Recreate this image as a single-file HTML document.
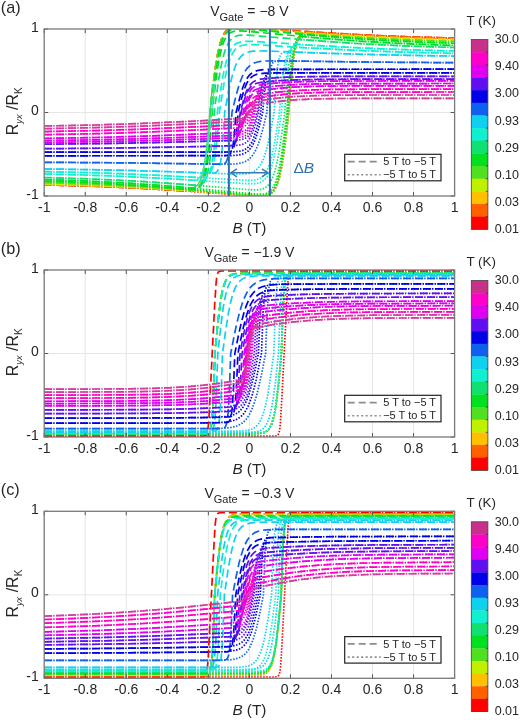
<!DOCTYPE html><html><head><meta charset="utf-8"><style>html,body{margin:0;padding:0;background:#fff;}svg{display:block;} text{font-family:"Liberation Sans",Arial,sans-serif;fill:#262626;}</style></head><body>
<svg width="520" height="720" viewBox="0 0 520 720">
<rect width="520" height="720" fill="#fff"/>
<clipPath id="clip0"><rect x="44.2" y="29.0" width="410.40000000000003" height="167.0"/></clipPath>
<g stroke="#e6e6e6" stroke-width="1"><line x1="85.24" y1="29.0" x2="85.24" y2="196.0"/><line x1="126.28" y1="29.0" x2="126.28" y2="196.0"/><line x1="167.32" y1="29.0" x2="167.32" y2="196.0"/><line x1="208.36" y1="29.0" x2="208.36" y2="196.0"/><line x1="249.40" y1="29.0" x2="249.40" y2="196.0"/><line x1="290.44" y1="29.0" x2="290.44" y2="196.0"/><line x1="331.48" y1="29.0" x2="331.48" y2="196.0"/><line x1="372.52" y1="29.0" x2="372.52" y2="196.0"/><line x1="413.56" y1="29.0" x2="413.56" y2="196.0"/><line x1="44.2" y1="112.50" x2="454.6" y2="112.50"/></g>
<g clip-path="url(#clip0)" fill="none" stroke-width="1.7"><path d="M44.2,184.8 81.4,185.8 116.0,187.1 146.9,188.6 188.3,191.0 191.7,191.0 194.2,190.7 196.3,190.0 197.9,188.9 199.0,187.8 200.0,186.3 201.9,182.1 203.5,175.9 205.0,167.7 206.1,159.1 207.2,148.3 210.4,108.5 211.6,97.4 215.0,70.0 216.6,59.9 218.0,52.2 219.2,46.7 220.6,41.9 221.9,38.1 223.3,35.0 224.9,32.5 226.6,30.4 228.6,28.9 230.7,27.9 233.0,27.3 235.5,27.0 242.9,27.0 310.9,31.9 354.8,34.6 402.6,36.7 454.6,38.2" stroke="#ff0000" stroke-dasharray="8 4"/><path d="M44.2,184.8 96.2,186.3 144.0,188.4 187.9,191.1 255.9,196.0 263.3,196.0 265.8,195.7 268.1,195.1 270.2,194.0 272.2,192.5 273.9,190.5 275.5,188.0 276.9,184.9 278.2,181.1 279.6,176.3 280.8,170.8 282.2,163.1 283.8,153.0 287.2,125.5 288.4,114.5 291.6,74.7 292.7,63.9 293.8,55.3 295.3,47.1 296.9,40.9 298.8,36.7 299.8,35.2 300.9,34.1 302.5,33.0 304.6,32.3 307.1,32.0 310.5,32.0 351.9,34.4 382.8,35.9 417.4,37.2 454.6,38.2" stroke="#ff0000" stroke-dasharray="1.5 1.5"/><path d="M44.2,184.8 81.4,185.8 116.0,187.1 146.9,188.6 188.3,191.0 191.7,191.0 194.2,190.7 196.3,190.0 197.9,188.9 199.0,187.8 200.0,186.3 201.9,182.1 203.5,175.9 205.0,167.7 206.1,159.1 207.2,148.3 210.4,108.5 211.6,97.4 215.0,70.0 216.6,59.9 218.0,52.2 219.2,46.7 220.6,41.9 221.9,38.1 223.3,35.0 224.9,32.5 226.6,30.4 228.6,28.9 230.7,27.9 233.0,27.3 235.5,27.0 242.9,27.0 310.9,31.9 354.8,34.6 402.6,36.7 454.6,38.2" stroke="#ff6000" stroke-dasharray="8 4"/><path d="M44.2,184.8 96.2,186.3 144.0,188.4 187.9,191.1 255.9,196.0 263.3,196.0 265.8,195.7 268.1,195.1 270.2,194.0 272.2,192.5 273.9,190.5 275.5,188.0 276.9,184.9 278.2,181.1 279.6,176.3 280.8,170.8 282.2,163.1 283.8,153.0 287.2,125.5 288.4,114.5 291.6,74.7 292.7,63.9 293.8,55.3 295.3,47.1 296.9,40.9 298.8,36.7 299.8,35.2 300.9,34.1 302.5,33.0 304.6,32.3 307.1,32.0 310.5,32.0 351.9,34.4 382.8,35.9 417.4,37.2 454.6,38.2" stroke="#ff6000" stroke-dasharray="1.5 1.5"/><path d="M44.2,184.3 81.4,185.3 116.0,186.6 147.0,188.1 188.3,190.5 191.7,190.5 194.2,190.2 196.3,189.5 197.9,188.5 199.0,187.3 200.0,185.9 201.9,181.7 203.5,175.5 205.0,167.5 206.1,158.9 207.2,148.2 210.4,108.8 211.6,97.9 215.0,70.7 216.6,60.7 218.0,53.1 219.2,47.6 220.6,42.9 221.9,39.1 223.3,36.0 224.9,33.6 226.6,31.6 228.6,30.1 230.7,29.1 233.0,28.5 235.5,28.1 242.8,28.1 310.9,33.1 354.8,35.7 402.6,37.9 454.6,39.4" stroke="#ffc000" stroke-dasharray="8 4"/><path d="M44.2,184.3 96.2,185.8 144.0,187.9 187.9,190.6 256.0,195.5 263.3,195.5 265.8,195.2 268.1,194.6 270.2,193.6 272.2,192.1 273.9,190.1 275.5,187.6 276.9,184.5 278.2,180.8 279.6,176.0 280.8,170.6 282.2,162.9 283.8,153.0 287.2,125.8 288.4,114.8 291.6,75.5 292.7,64.8 293.8,56.2 295.3,48.1 296.9,42.0 298.8,37.8 299.8,36.3 300.9,35.2 302.5,34.2 304.6,33.5 307.1,33.2 310.5,33.2 351.8,35.6 382.8,37.1 417.4,38.4 454.6,39.4" stroke="#ffc000" stroke-dasharray="1.5 1.5"/><path d="M44.2,183.5 81.4,184.5 116.1,185.9 147.2,187.5 188.5,190.1 191.8,190.1 194.3,189.8 196.3,189.2 197.9,188.2 199.0,187.1 200.0,185.6 201.9,181.5 203.5,175.3 205.0,167.3 206.1,158.7 207.2,148.1 210.4,108.9 211.6,98.0 215.0,70.8 216.6,60.9 218.0,53.3 219.2,47.9 220.6,43.2 221.9,39.4 223.3,36.4 224.9,33.9 226.6,31.9 228.6,30.5 230.7,29.5 232.9,28.9 235.4,28.6 242.6,28.6 310.5,33.9 354.6,36.8 402.5,39.1 454.6,40.7" stroke="#c0f000" stroke-dasharray="8 4"/><path d="M44.2,183.5 96.3,185.1 144.2,187.4 188.3,190.3 256.2,195.6 263.4,195.6 265.9,195.3 268.1,194.7 270.2,193.7 272.2,192.2 273.9,190.3 275.5,187.8 276.9,184.7 278.2,181.0 279.6,176.3 280.8,170.9 282.2,163.2 283.8,153.3 287.2,126.2 288.4,115.3 291.6,76.1 292.7,65.4 293.8,56.9 295.3,48.8 296.9,42.7 298.8,38.6 299.8,37.1 300.9,36.0 302.5,35.0 304.5,34.3 307.0,34.0 310.3,34.0 351.6,36.6 382.7,38.2 417.4,39.6 454.6,40.7" stroke="#c0f000" stroke-dasharray="1.5 1.5"/><path d="M44.2,182.6 81.5,183.8 116.2,185.3 147.4,187.0 188.6,189.8 191.8,189.8 194.3,189.5 196.3,188.9 197.9,187.9 199.0,186.8 200.0,185.3 201.9,181.2 203.5,175.1 205.0,167.0 206.1,158.5 207.2,147.8 210.4,108.6 211.6,97.7 215.0,70.6 216.6,60.7 218.0,53.1 219.2,47.7 220.6,43.0 221.9,39.3 223.3,36.2 224.9,33.7 226.6,31.8 228.6,30.3 230.7,29.3 232.9,28.8 235.4,28.5 242.4,28.5 310.3,34.2 354.5,37.3 402.5,39.8 454.6,41.5" stroke="#50e020" stroke-dasharray="8 4"/><path d="M44.2,182.6 96.3,184.4 144.3,186.8 188.5,189.9 256.4,195.6 263.4,195.7 265.9,195.4 268.1,194.8 270.2,193.8 272.2,192.4 273.9,190.4 275.5,188.0 276.9,184.9 278.2,181.2 279.6,176.4 280.8,171.1 282.2,163.4 283.8,153.5 287.2,126.4 288.4,115.5 291.6,76.3 292.7,65.7 293.8,57.2 295.3,49.1 296.9,43.0 298.8,38.9 299.8,37.4 300.9,36.3 302.5,35.3 304.5,34.7 307.0,34.4 310.2,34.4 351.4,37.2 382.6,38.9 417.3,40.4 454.6,41.5" stroke="#50e020" stroke-dasharray="1.5 1.5"/><path d="M44.2,181.1 82.0,182.4 117.0,184.1 148.7,186.1 189.8,189.3 193.1,189.3 195.4,189.0 197.4,188.4 198.9,187.5 200.0,186.4 201.1,184.9 202.9,180.8 204.6,174.7 206.0,166.7 207.1,158.2 208.3,147.5 211.4,108.4 212.6,98.4 216.0,71.1 217.5,61.1 218.9,53.4 220.2,48.0 221.5,43.2 222.8,39.4 224.3,36.3 225.8,33.8 227.5,31.8 229.5,30.3 231.7,29.3 233.9,28.8 236.7,28.5 244.5,28.7 316.6,35.6 343.1,37.7 368.9,39.5 410.1,41.7 454.6,43.3" stroke="#00e020" stroke-dasharray="8 4"/><path d="M44.2,181.1 88.7,182.7 129.9,184.8 155.7,186.6 182.2,188.8 254.3,195.6 262.1,195.8 264.9,195.6 267.1,195.0 269.3,194.0 271.3,192.5 273.0,190.6 274.5,188.1 276.0,184.9 277.3,181.2 278.6,176.4 279.9,170.9 281.3,163.2 282.8,153.2 286.2,126.0 287.4,116.0 290.5,76.8 291.7,66.2 292.8,57.7 294.2,49.6 295.9,43.5 297.7,39.4 298.8,38.0 299.9,36.9 301.4,35.9 303.4,35.3 305.7,35.0 309.0,35.1 350.1,38.2 381.8,40.3 416.8,42.0 454.6,43.3" stroke="#00e020" stroke-dasharray="1.5 1.5"/><path d="M44.2,179.5 82.3,180.8 117.6,182.5 149.5,184.6 190.9,187.8 194.1,187.8 196.5,187.6 198.4,187.0 199.9,186.0 201.1,185.0 202.1,183.6 203.9,179.5 205.6,173.6 207.0,165.7 208.2,157.4 209.3,147.1 212.5,108.8 213.6,99.0 217.0,72.4 218.5,62.7 220.0,55.1 221.2,49.8 222.5,45.1 223.9,41.5 225.3,38.4 226.8,36.0 228.6,34.0 230.5,32.6 232.7,31.7 234.9,31.1 237.7,30.8 245.4,31.1 316.8,37.8 343.1,40.0 368.8,41.7 410.0,43.9 454.6,45.5" stroke="#00e020" stroke-dasharray="8 4"/><path d="M44.2,179.5 88.8,181.1 130.0,183.3 155.7,185.0 182.0,187.2 253.4,193.9 261.1,194.2 263.9,193.9 266.1,193.3 268.3,192.4 270.2,191.0 272.0,189.0 273.5,186.6 274.9,183.5 276.3,179.9 277.6,175.2 278.8,169.9 280.3,162.3 281.8,152.6 285.2,126.0 286.3,116.2 289.5,77.9 290.6,67.6 291.8,59.3 293.2,51.4 294.9,45.5 296.7,41.4 297.7,40.0 298.9,39.0 300.4,38.0 302.3,37.4 304.7,37.2 307.9,37.2 349.3,40.4 381.2,42.5 416.5,44.2 454.6,45.5" stroke="#00e020" stroke-dasharray="1.5 1.5"/><path d="M44.2,177.5 83.1,178.7 119.2,180.2 152.0,182.1 194.0,185.1 197.1,185.1 199.3,184.8 201.1,184.3 202.6,183.5 203.7,182.4 204.7,181.2 206.4,177.5 207.8,172.5 209.2,165.5 210.4,156.6 211.6,145.0 214.5,109.4 218.8,79.0 220.6,68.9 222.3,60.4 223.8,54.7 225.2,50.1 226.7,46.1 228.3,43.1 230.0,40.5 231.9,38.5 234.0,37.0 236.5,36.0 238.8,35.4 241.5,35.1 248.9,35.2 314.2,40.6 356.9,43.5 403.7,45.9 454.6,47.5" stroke="#10e070" stroke-dasharray="8 4"/><path d="M44.2,177.5 95.1,179.1 141.9,181.5 184.6,184.4 249.9,189.8 257.3,189.9 260.0,189.6 262.3,189.0 264.8,188.0 266.9,186.5 268.8,184.5 270.5,181.9 272.1,178.9 273.6,174.9 275.1,170.3 276.5,164.6 278.2,156.1 280.0,146.0 284.3,115.6 287.2,80.0 288.4,68.4 289.6,59.5 291.0,52.5 292.4,47.5 294.1,43.8 295.1,42.6 296.2,41.5 297.7,40.7 299.5,40.2 301.7,39.9 304.8,39.9 346.8,42.9 379.6,44.8 415.7,46.3 454.6,47.5" stroke="#10e070" stroke-dasharray="1.5 1.5"/><path d="M44.2,174.0 83.8,175.0 120.4,176.3 153.9,177.9 196.8,180.3 199.9,180.3 202.2,180.1 204.1,179.6 205.6,178.8 206.7,177.9 207.6,176.8 209.4,173.5 210.9,168.6 212.3,162.1 213.5,153.8 214.7,143.1 217.6,110.2 221.9,82.1 223.6,72.7 225.4,64.9 226.8,59.6 228.3,55.3 229.8,51.7 231.3,48.8 233.1,46.4 235.0,44.5 237.2,43.1 239.7,42.2 242.0,41.6 244.8,41.3 252.5,41.3 316.3,45.5 358.4,47.8 404.5,49.7 454.6,51.0" stroke="#10f0d0" stroke-dasharray="8 4"/><path d="M44.2,174.0 94.3,175.3 140.4,177.2 182.5,179.5 246.3,183.7 254.0,183.7 256.8,183.4 259.1,182.8 261.6,181.9 263.8,180.5 265.7,178.6 267.5,176.2 269.0,173.3 270.5,169.7 272.0,165.4 273.4,160.1 275.2,152.3 276.9,142.9 281.2,114.8 284.1,81.9 285.3,71.2 286.5,62.9 287.9,56.4 289.4,51.5 291.2,48.2 292.1,47.1 293.2,46.2 294.7,45.4 296.6,44.9 298.9,44.7 302.0,44.7 344.9,47.1 378.4,48.7 415.0,50.0 454.6,51.0" stroke="#10f0d0" stroke-dasharray="1.5 1.5"/><path d="M44.2,171.6 84.2,172.5 121.4,173.7 155.2,175.2 198.7,177.5 201.9,177.5 204.3,177.3 206.1,176.8 207.6,176.0 208.8,175.1 209.7,174.1 211.4,170.9 213.0,166.2 214.3,160.1 215.5,152.2 216.8,141.9 219.6,110.6 224.0,83.7 225.7,74.8 227.4,67.3 228.9,62.2 230.3,58.1 231.9,54.6 233.4,51.9 235.1,49.6 237.1,47.8 239.2,46.5 241.7,45.5 244.1,45.0 246.9,44.7 254.6,44.7 317.5,48.4 359.2,50.5 404.9,52.2 454.6,53.4" stroke="#10f0d0" stroke-dasharray="8 4"/><path d="M44.2,171.6 93.9,172.8 139.6,174.5 181.3,176.6 244.2,180.3 251.9,180.3 254.7,180.0 257.1,179.5 259.6,178.5 261.7,177.2 263.7,175.4 265.4,173.1 266.9,170.4 268.5,166.9 269.9,162.8 271.4,157.7 273.1,150.2 274.8,141.3 279.2,114.4 282.0,83.1 283.3,72.8 284.5,64.9 285.8,58.8 287.4,54.1 289.1,50.9 290.0,49.9 291.2,49.0 292.7,48.2 294.5,47.7 296.9,47.5 300.1,47.5 343.6,49.8 377.4,51.3 414.6,52.5 454.6,53.4" stroke="#10f0d0" stroke-dasharray="1.5 1.5"/><path d="M44.2,168.9 87.3,169.6 127.2,170.4 164.7,171.5 209.8,173.1 213.8,173.0 215.1,172.7 216.2,172.3 217.6,171.0 218.8,168.7 219.9,165.5 220.7,161.4 221.7,153.8 222.6,144.1 224.8,111.5 228.9,89.9 232.1,76.4 233.7,70.8 235.4,66.0 237.2,62.1 239.0,59.0 241.1,56.4 243.2,54.5 245.7,53.0 248.6,52.0 251.3,51.4 254.6,51.1 263.8,50.9 324.6,53.2 363.4,54.3 407.1,55.3 454.6,56.1" stroke="#10d0f0" stroke-dasharray="8 4"/><path d="M44.2,168.9 91.7,169.7 135.4,170.7 174.2,171.8 235.0,174.1 244.2,173.9 247.5,173.6 250.2,173.0 253.1,172.0 255.6,170.5 257.7,168.6 259.8,166.0 261.6,162.9 263.4,159.0 265.1,154.2 266.7,148.6 269.9,135.1 274.0,113.5 276.2,80.9 277.1,71.2 278.1,63.6 278.9,59.5 280.0,56.3 281.2,54.0 282.6,52.7 283.7,52.3 285.0,52.0 289.0,51.9 334.1,53.5 371.6,54.6 411.5,55.4 454.6,56.1" stroke="#10d0f0" stroke-dasharray="1.5 1.5"/><path d="M44.2,162.3 131.0,162.9 218.4,164.2 222.2,164.1 224.4,163.6 225.7,162.6 226.7,161.0 227.6,158.4 228.4,155.2 229.3,148.7 230.1,140.2 232.0,112.2 236.0,95.8 239.1,84.9 241.0,79.7 242.9,75.2 244.9,71.6 246.9,68.6 249.1,66.3 251.6,64.4 254.3,63.0 257.5,62.0 260.7,61.4 264.6,61.0 275.8,60.8 370.5,62.1 454.6,62.7" stroke="#1060f0" stroke-dasharray="8 4"/><path d="M44.2,162.3 128.3,162.9 223.0,164.2 234.2,164.0 238.1,163.6 241.3,163.0 244.5,162.0 247.2,160.6 249.7,158.7 251.9,156.4 253.9,153.4 255.9,149.8 257.8,145.3 259.7,140.1 262.8,129.2 266.8,112.8 268.7,84.8 269.5,76.3 270.4,69.8 271.2,66.6 272.1,64.0 273.1,62.4 274.4,61.4 276.6,60.9 280.4,60.8 367.8,62.1 454.6,62.7" stroke="#1060f0" stroke-dasharray="1.5 1.5"/><path d="M44.2,155.8 221.1,155.7 226.0,155.6 228.5,155.1 229.8,154.3 230.9,152.8 231.9,150.5 232.6,147.6 233.4,142.8 234.2,135.7 236.1,112.5 239.8,97.6 242.7,87.8 244.3,83.8 245.9,80.3 247.6,77.6 249.3,75.3 251.1,73.6 253.3,72.2 255.7,71.1 258.4,70.3 261.5,69.8 265.2,69.5 277.2,69.3 454.6,69.2" stroke="#0000e8" stroke-dasharray="8 4"/><path d="M44.2,155.8 221.6,155.7 233.6,155.5 237.3,155.2 240.4,154.7 243.1,153.9 245.5,152.8 247.7,151.4 249.5,149.7 251.2,147.4 252.9,144.7 254.5,141.2 256.1,137.2 259.0,127.4 262.7,112.5 264.6,89.3 265.4,82.2 266.2,77.4 266.9,74.5 267.9,72.2 269.0,70.7 270.3,69.9 272.8,69.4 277.7,69.3 454.6,69.2" stroke="#0000e8" stroke-dasharray="1.5 1.5"/><path d="M44.2,152.1 223.1,152.1 228.1,152.0 230.5,151.5 231.9,150.7 233.0,149.4 233.9,147.2 234.6,144.6 235.4,140.2 236.3,133.8 238.1,112.5 241.6,98.2 244.5,88.9 245.8,85.5 247.2,82.5 248.7,80.2 250.3,78.2 252.1,76.6 254.0,75.4 256.2,74.5 258.7,73.8 265.0,73.2 276.1,72.9 454.6,72.9" stroke="#0000e8" stroke-dasharray="8 4"/><path d="M44.2,152.1 222.7,152.1 233.8,151.8 240.1,151.2 242.6,150.5 244.8,149.6 246.7,148.4 248.5,146.8 250.1,144.8 251.6,142.5 253.0,139.5 254.3,136.1 257.2,126.8 260.7,112.5 262.5,91.2 263.4,84.8 264.2,80.4 264.9,77.8 265.8,75.6 266.9,74.3 268.3,73.5 270.7,73.0 275.7,72.9 454.6,72.9" stroke="#0000e8" stroke-dasharray="1.5 1.5"/><path d="M44.2,148.7 104.5,148.2 160.1,147.4 226.0,145.9 230.3,145.7 232.6,145.3 233.9,144.7 235.0,143.5 236.0,141.7 236.8,139.1 237.6,135.2 238.4,129.6 240.2,112.7 243.7,99.4 245.1,94.9 246.5,91.2 247.8,88.6 249.1,86.3 250.6,84.3 252.3,82.6 254.0,81.4 256.0,80.4 258.2,79.7 260.9,79.1 267.9,78.3 279.6,77.5 294.0,76.9 311.0,76.6 351.6,76.3 454.6,76.3" stroke="#6010f0" stroke-dasharray="8 4"/><path d="M44.2,148.7 124.9,147.9 202.2,146.5 232.9,145.7 238.4,145.2 242.3,144.4 244.1,143.7 245.6,142.9 247.0,141.8 248.4,140.4 250.6,137.1 252.8,132.4 255.4,124.5 258.6,111.8 260.5,94.0 261.3,88.5 262.2,84.4 263.1,81.8 264.3,80.1 265.7,79.0 267.8,78.4 273.5,77.8 287.5,77.2 316.8,76.5 356.4,76.3 454.6,76.3" stroke="#6010f0" stroke-dasharray="1.5 1.5"/><path d="M44.2,144.2 101.0,143.6 153.5,142.6 226.1,140.7 231.1,140.5 233.6,140.1 235.0,139.5 236.2,138.4 237.1,136.7 237.9,134.4 238.7,130.8 239.4,126.5 241.2,111.9 244.5,99.7 245.9,95.4 247.2,92.2 248.5,89.9 249.8,88.0 251.0,86.5 252.5,85.3 254.1,84.3 256.0,83.5 260.9,82.4 269.5,81.4 282.8,80.5 296.8,79.9 312.9,79.5 353.2,79.2 454.6,79.1" stroke="#6010f0" stroke-dasharray="8 4"/><path d="M44.2,144.2 112.1,143.4 175.3,142.1 231.8,140.5 238.6,140.1 242.8,139.3 245.8,138.1 248.2,136.3 250.1,133.7 252.0,130.0 254.5,122.6 257.6,110.8 259.5,95.4 260.3,90.7 261.1,87.4 262.1,84.9 263.4,83.2 264.9,82.3 267.1,81.7 275.3,80.9 288.6,80.2 317.3,79.4 356.8,79.1 454.6,79.1" stroke="#6010f0" stroke-dasharray="1.5 1.5"/><path d="M44.2,142.4 99.5,141.7 150.4,140.6 226.4,138.2 232.9,137.9 235.7,137.5 237.2,136.8 238.3,135.8 239.2,134.2 240.1,131.9 241.6,124.5 243.2,111.9 246.3,99.9 247.6,96.2 248.9,93.1 251.1,89.4 252.4,88.1 253.7,87.1 255.2,86.3 257.0,85.6 261.9,84.6 272.1,83.4 285.2,82.4 298.8,81.8 314.4,81.3 354.5,81.0 454.6,80.9" stroke="#e000f0" stroke-dasharray="8 4"/><path d="M44.2,142.4 106.0,141.5 163.0,140.2 231.2,138.0 238.3,137.6 242.4,136.9 244.9,136.0 246.9,134.5 248.7,132.4 250.2,129.6 251.5,126.4 252.7,122.5 255.6,110.9 257.4,96.9 258.2,92.6 259.0,89.6 260.1,87.3 261.4,85.6 263.1,84.7 265.7,84.1 275.8,83.1 288.4,82.2 301.5,81.7 316.9,81.3 356.5,81.0 454.6,80.9" stroke="#e000f0" stroke-dasharray="1.5 1.5"/><path d="M44.2,140.6 97.9,139.8 147.3,138.6 213.5,136.3 232.4,135.5 236.6,135.0 238.1,134.5 239.2,133.6 240.2,132.2 241.0,130.3 241.8,127.5 242.5,124.0 244.3,112.3 247.6,101.1 248.9,97.7 250.5,94.5 252.8,91.6 254.1,90.5 255.7,89.6 259.5,88.3 265.3,87.3 276.3,86.0 288.5,85.0 301.6,84.4 316.9,83.9 356.5,83.6 454.6,83.5" stroke="#e000f0" stroke-dasharray="8 4"/><path d="M44.2,140.6 103.1,139.7 157.4,138.3 229.1,135.6 237.1,135.2 241.4,134.5 244.4,133.4 246.6,131.7 248.6,129.1 250.3,125.4 252.2,120.0 254.5,111.4 256.6,97.8 257.5,94.0 258.6,91.0 259.8,89.4 261.1,88.4 262.9,87.7 265.9,87.2 277.0,85.9 289.1,85.0 302.1,84.4 317.4,83.9 356.9,83.6 454.6,83.5" stroke="#e000f0" stroke-dasharray="1.5 1.5"/><path d="M44.2,138.4 97.0,137.5 145.8,136.1 205.1,133.8 232.7,132.5 237.6,132.0 239.1,131.5 240.3,130.7 241.3,129.4 242.1,127.6 243.7,121.9 245.3,112.3 247.1,105.4 249.2,99.5 250.3,97.2 251.6,95.3 252.7,94.0 253.9,93.0 257.0,91.6 261.7,90.6 270.2,89.3 281.2,88.1 292.7,87.2 305.3,86.6 320.3,86.2 359.3,85.8 454.6,85.8" stroke="#e000f0" stroke-dasharray="8 4"/><path d="M44.2,138.4 99.9,137.4 151.2,135.9 186.3,134.6 226.3,132.8 237.3,132.2 242.0,131.6 244.6,130.8 246.5,129.4 248.2,127.4 249.6,124.6 251.3,119.6 253.5,111.4 254.8,103.2 255.9,98.4 256.8,95.4 257.8,93.4 259.2,91.8 261.1,90.9 264.1,90.2 270.0,89.4 281.0,88.1 292.5,87.2 305.2,86.6 320.2,86.2 359.3,85.8 454.6,85.8" stroke="#e000f0" stroke-dasharray="1.5 1.5"/><path d="M44.2,134.7 96.3,133.7 144.2,132.2 198.4,129.9 233.0,128.1 238.6,127.6 240.2,127.1 241.3,126.5 242.3,125.5 243.1,124.1 244.7,119.6 246.3,112.1 248.4,106.2 250.8,100.9 252.0,99.2 253.3,97.8 254.5,96.9 256.1,96.1 260.2,94.8 268.7,93.3 279.7,91.9 289.6,91.0 300.4,90.3 327.0,89.5 364.8,89.2 454.6,89.1" stroke="#ff00c8" stroke-dasharray="8 4"/><path d="M44.2,134.7 98.0,133.6 147.5,132.1 209.8,129.3 234.2,128.0 240.9,127.3 243.4,126.6 245.5,125.5 247.1,123.9 248.7,121.6 250.3,117.8 252.5,111.4 253.9,104.4 255.0,100.5 256.2,97.9 257.4,96.4 259.2,95.2 262.2,94.4 270.2,93.1 279.7,91.9 289.6,91.0 300.4,90.3 327.0,89.5 364.8,89.2 454.6,89.1" stroke="#ff00c8" stroke-dasharray="1.5 1.5"/><path d="M44.2,131.6 95.9,130.6 143.5,129.1 195.2,126.9 233.3,125.0 239.6,124.5 241.1,124.1 242.3,123.6 243.3,122.7 244.2,121.6 245.7,118.0 247.3,111.9 249.9,106.1 252.2,102.3 253.3,101.0 254.6,100.0 256.1,99.1 257.8,98.4 262.6,97.3 272.8,95.7 284.1,94.4 293.6,93.6 304.1,93.0 330.2,92.3 367.5,92.1 454.6,92.0" stroke="#ff00c8" stroke-dasharray="8 4"/><path d="M44.2,131.6 97.1,130.6 145.9,129.1 203.6,126.5 232.6,125.0 239.9,124.4 242.4,123.8 244.5,122.9 246.1,121.6 247.7,119.6 249.4,116.5 251.5,111.5 252.9,105.8 254.0,102.6 255.2,100.4 256.7,99.0 259.0,98.0 263.5,97.1 273.7,95.6 284.1,94.4 293.6,93.6 304.1,93.0 330.2,92.3 367.5,92.1 454.6,92.0" stroke="#ff00c8" stroke-dasharray="1.5 1.5"/><path d="M44.2,128.7 95.6,127.6 142.9,126.1 192.6,123.9 240.6,121.2 242.2,120.9 243.4,120.4 244.5,119.7 245.3,118.9 246.6,116.6 248.4,111.9 251.0,106.4 252.9,104.0 255.1,102.4 256.9,101.7 259.2,101.1 268.2,99.5 279.1,98.0 290.1,96.9 309.4,95.8 334.9,95.2 371.3,95.0 454.6,95.0" stroke="#d43c9e" stroke-dasharray="8 4"/><path d="M44.2,128.7 96.0,127.6 143.7,126.1 195.2,123.7 232.8,121.7 240.7,121.1 242.8,120.7 244.5,120.1 245.8,119.3 247.0,118.0 248.2,116.4 249.4,114.0 250.4,111.6 251.9,107.5 252.9,105.2 254.2,103.4 256.0,102.1 259.8,101.0 269.6,99.3 279.8,97.9 290.1,96.9 309.4,95.8 334.9,95.2 371.3,95.0 454.6,95.0" stroke="#d43c9e" stroke-dasharray="1.5 1.5"/><path d="M44.2,126.0 95.4,125.0 142.6,123.4 190.9,121.3 241.6,118.5 244.5,117.9 246.3,116.9 247.7,115.3 250.2,110.8 252.2,108.1 254.2,106.3 256.7,105.2 262.4,103.8 273.8,102.0 284.3,100.8 295.3,99.8 313.9,99.0 338.9,98.5 454.6,98.3" stroke="#d43c9e" stroke-dasharray="8 4"/><path d="M44.2,126.0 95.3,125.0 142.3,123.5 191.1,121.3 239.6,118.6 243.4,117.8 244.8,117.2 246.0,116.4 247.3,115.0 248.8,113.1 250.9,109.1 252.1,107.5 253.5,106.2 255.5,105.3 261.8,103.9 274.1,102.0 284.4,100.7 295.3,99.8 313.9,99.0 338.9,98.5 454.6,98.3" stroke="#d43c9e" stroke-dasharray="1.5 1.5"/></g>
<g stroke="#555" stroke-width="1"><line x1="44.20" y1="29.0" x2="44.20" y2="33.0"/><line x1="44.20" y1="196.0" x2="44.20" y2="192.0"/><line x1="85.24" y1="29.0" x2="85.24" y2="33.0"/><line x1="85.24" y1="196.0" x2="85.24" y2="192.0"/><line x1="126.28" y1="29.0" x2="126.28" y2="33.0"/><line x1="126.28" y1="196.0" x2="126.28" y2="192.0"/><line x1="167.32" y1="29.0" x2="167.32" y2="33.0"/><line x1="167.32" y1="196.0" x2="167.32" y2="192.0"/><line x1="208.36" y1="29.0" x2="208.36" y2="33.0"/><line x1="208.36" y1="196.0" x2="208.36" y2="192.0"/><line x1="249.40" y1="29.0" x2="249.40" y2="33.0"/><line x1="249.40" y1="196.0" x2="249.40" y2="192.0"/><line x1="290.44" y1="29.0" x2="290.44" y2="33.0"/><line x1="290.44" y1="196.0" x2="290.44" y2="192.0"/><line x1="331.48" y1="29.0" x2="331.48" y2="33.0"/><line x1="331.48" y1="196.0" x2="331.48" y2="192.0"/><line x1="372.52" y1="29.0" x2="372.52" y2="33.0"/><line x1="372.52" y1="196.0" x2="372.52" y2="192.0"/><line x1="413.56" y1="29.0" x2="413.56" y2="33.0"/><line x1="413.56" y1="196.0" x2="413.56" y2="192.0"/><line x1="454.60" y1="29.0" x2="454.60" y2="33.0"/><line x1="454.60" y1="196.0" x2="454.60" y2="192.0"/><line x1="44.2" y1="196.00" x2="48.2" y2="196.00"/><line x1="454.6" y1="196.00" x2="450.6" y2="196.00"/><line x1="44.2" y1="112.50" x2="48.2" y2="112.50"/><line x1="454.6" y1="112.50" x2="450.6" y2="112.50"/><line x1="44.2" y1="29.00" x2="48.2" y2="29.00"/><line x1="454.6" y1="29.00" x2="450.6" y2="29.00"/></g>
<rect x="44.2" y="29.0" width="410.40000000000003" height="167.0" fill="none" stroke="#7a7a7a" stroke-width="1.3"/>
<text x="44.20" y="212.0" text-anchor="middle" font-size="14">-1</text><text x="85.24" y="212.0" text-anchor="middle" font-size="14">-0.8</text><text x="126.28" y="212.0" text-anchor="middle" font-size="14">-0.6</text><text x="167.32" y="212.0" text-anchor="middle" font-size="14">-0.4</text><text x="208.36" y="212.0" text-anchor="middle" font-size="14">-0.2</text><text x="249.40" y="212.0" text-anchor="middle" font-size="14">0</text><text x="290.44" y="212.0" text-anchor="middle" font-size="14">0.2</text><text x="331.48" y="212.0" text-anchor="middle" font-size="14">0.4</text><text x="372.52" y="212.0" text-anchor="middle" font-size="14">0.6</text><text x="413.56" y="212.0" text-anchor="middle" font-size="14">0.8</text><text x="454.60" y="212.0" text-anchor="middle" font-size="14">1</text><text x="38.7" y="31.60" text-anchor="end" font-size="14">1</text><text x="38.7" y="115.10" text-anchor="end" font-size="14">0</text><text x="38.7" y="198.60" text-anchor="end" font-size="14">-1</text>
<text x="249.40" y="232.5" text-anchor="middle" font-size="15.3"><tspan font-style="italic">B</tspan> (T)</text>
<text transform="translate(18,111.30) rotate(-90)" text-anchor="middle" font-size="16">R<tspan font-size="9.2" font-style="italic" dy="4.2">yx</tspan><tspan dy="-4.2"> /R</tspan><tspan font-size="10" dy="4.2">K</tspan></text>
<text x="249.40" y="15.5" text-anchor="middle" font-size="14">V<tspan font-size="11" dy="5">Gate</tspan><tspan dy="-5"> = −8 V</tspan></text>
<text x="0.8" y="12.8" font-size="16.2">(a)</text>
<rect x="471.3" y="39.50" width="16.60" height="12.95" fill="#c8308c"/><rect x="471.3" y="52.15" width="16.60" height="12.95" fill="#ff00c8"/><rect x="471.3" y="64.81" width="16.60" height="12.95" fill="#e000f0"/><rect x="471.3" y="77.46" width="16.60" height="12.95" fill="#6010f0"/><rect x="471.3" y="90.11" width="16.60" height="12.95" fill="#0000e8"/><rect x="471.3" y="102.77" width="16.60" height="12.95" fill="#1060f0"/><rect x="471.3" y="115.42" width="16.60" height="12.95" fill="#10d0f0"/><rect x="471.3" y="128.07" width="16.60" height="12.95" fill="#10f0d0"/><rect x="471.3" y="140.73" width="16.60" height="12.95" fill="#10e070"/><rect x="471.3" y="153.38" width="16.60" height="12.95" fill="#00e020"/><rect x="471.3" y="166.03" width="16.60" height="12.95" fill="#50e020"/><rect x="471.3" y="178.69" width="16.60" height="12.95" fill="#c0f000"/><rect x="471.3" y="191.34" width="16.60" height="12.95" fill="#ffc000"/><rect x="471.3" y="203.99" width="16.60" height="12.95" fill="#ff6000"/><rect x="471.3" y="216.65" width="16.60" height="12.95" fill="#ff0000"/>
<rect x="471.3" y="39.50" width="16.60" height="189.80" fill="none" stroke="#444" stroke-width="0.8"/>
<g stroke="#333" stroke-width="0.8"><line x1="485.70" y1="52.15" x2="487.9" y2="52.15"/><line x1="485.70" y1="64.81" x2="487.9" y2="64.81"/><line x1="485.70" y1="77.46" x2="487.9" y2="77.46"/><line x1="485.70" y1="90.11" x2="487.9" y2="90.11"/><line x1="485.70" y1="102.77" x2="487.9" y2="102.77"/><line x1="485.70" y1="115.42" x2="487.9" y2="115.42"/><line x1="485.70" y1="128.07" x2="487.9" y2="128.07"/><line x1="485.70" y1="140.73" x2="487.9" y2="140.73"/><line x1="485.70" y1="153.38" x2="487.9" y2="153.38"/><line x1="485.70" y1="166.03" x2="487.9" y2="166.03"/><line x1="485.70" y1="178.69" x2="487.9" y2="178.69"/><line x1="485.70" y1="191.34" x2="487.9" y2="191.34"/><line x1="485.70" y1="203.99" x2="487.9" y2="203.99"/><line x1="485.70" y1="216.65" x2="487.9" y2="216.65"/></g>
<text x="494.7" y="43.20" font-size="12.5">30.0</text>
<text x="494.7" y="70.31" font-size="12.5">9.40</text>
<text x="494.7" y="97.43" font-size="12.5">3.00</text>
<text x="494.7" y="124.54" font-size="12.5">0.93</text>
<text x="494.7" y="151.66" font-size="12.5">0.29</text>
<text x="494.7" y="178.77" font-size="12.5">0.10</text>
<text x="494.7" y="205.89" font-size="12.5">0.03</text>
<text x="494.7" y="233.00" font-size="12.5">0.01</text>
<text x="481.20" y="24.8" text-anchor="middle" font-size="13.4">T (K)</text>
<rect x="344.7" y="154.3" width="96.3" height="26.5" fill="#fff" stroke="#222" stroke-width="1.2"/>
<line x1="347.7" y1="161.60000000000002" x2="380.7" y2="161.60000000000002" stroke="#8c8c8c" stroke-width="1.6" stroke-dasharray="7 4"/>
<line x1="347.7" y1="174.8" x2="380.7" y2="174.8" stroke="#8c8c8c" stroke-width="1.6" stroke-dasharray="2 2.5"/>
<text x="383.2" y="165.20000000000002" font-size="11">5 T to −5 T</text>
<text x="383.2" y="178.20000000000002" font-size="11">−5 T to 5 T</text>
<clipPath id="clip1"><rect x="44.2" y="270.0" width="410.40000000000003" height="167.0"/></clipPath>
<g stroke="#e6e6e6" stroke-width="1"><line x1="85.24" y1="270.0" x2="85.24" y2="437.0"/><line x1="126.28" y1="270.0" x2="126.28" y2="437.0"/><line x1="167.32" y1="270.0" x2="167.32" y2="437.0"/><line x1="208.36" y1="270.0" x2="208.36" y2="437.0"/><line x1="249.40" y1="270.0" x2="249.40" y2="437.0"/><line x1="290.44" y1="270.0" x2="290.44" y2="437.0"/><line x1="331.48" y1="270.0" x2="331.48" y2="437.0"/><line x1="372.52" y1="270.0" x2="372.52" y2="437.0"/><line x1="413.56" y1="270.0" x2="413.56" y2="437.0"/><line x1="44.2" y1="353.50" x2="454.6" y2="353.50"/></g>
<g clip-path="url(#clip1)" fill="none" stroke-width="1.7"><path d="M44.2,436.2 199.3,436.2 204.1,436.0 205.2,435.7 206.0,435.1 207.0,433.3 207.7,430.2 208.4,425.1 209.0,417.1 214.7,304.3 216.0,284.2 216.6,278.2 217.3,274.3 218.1,272.4 218.7,271.7 219.4,271.3 221.7,270.9 227.5,270.8 454.6,270.8" stroke="#ff0000" stroke-dasharray="8 4"/><path d="M44.2,436.2 268.8,436.2 274.6,436.1 276.9,435.7 277.6,435.3 278.2,434.6 279.1,432.7 279.8,428.8 280.4,422.8 281.6,402.7 287.4,289.9 288.0,281.9 288.6,276.8 289.3,273.7 290.3,271.9 291.2,271.3 292.3,271.0 297.0,270.8 454.6,270.8" stroke="#ff0000" stroke-dasharray="1.5 1.5"/><path d="M44.2,433.8 202.7,433.8 206.8,433.6 207.9,433.3 208.8,432.8 209.9,431.2 210.8,428.3 211.5,424.2 212.2,418.5 212.9,408.3 213.5,395.7 214.9,353.5 217.8,323.0 220.2,303.5 221.3,296.5 222.4,290.9 223.6,286.2 224.9,282.6 226.3,279.6 227.9,277.4 229.7,275.8 231.9,274.6 234.1,273.9 237.0,273.5 246.7,273.2 454.6,273.2" stroke="#ff6000" stroke-dasharray="8 4"/><path d="M44.2,433.8 249.7,433.8 259.4,433.5 262.2,433.1 264.5,432.4 266.6,431.2 268.5,429.6 270.0,427.4 271.5,424.4 272.7,420.8 273.9,416.1 275.1,410.5 276.2,403.5 278.5,384.0 281.4,353.5 282.8,311.3 283.5,298.7 284.2,288.5 284.8,282.8 285.5,278.7 286.4,275.8 287.6,274.2 288.4,273.7 289.5,273.4 293.6,273.2 454.6,273.2" stroke="#ff6000" stroke-dasharray="1.5 1.5"/><path d="M44.2,433.8 202.7,433.8 206.8,433.6 207.9,433.3 208.8,432.8 209.9,431.2 210.8,428.3 211.5,424.2 212.2,418.5 212.9,408.3 213.5,395.7 214.9,353.5 217.8,323.0 220.2,303.5 221.3,296.5 222.4,290.9 223.6,286.2 224.9,282.6 226.3,279.6 227.9,277.4 229.7,275.8 231.9,274.6 234.1,273.9 237.0,273.5 246.7,273.2 454.6,273.2" stroke="#ffc000" stroke-dasharray="8 4"/><path d="M44.2,433.8 249.7,433.8 259.4,433.5 262.2,433.1 264.5,432.4 266.6,431.2 268.5,429.6 270.0,427.4 271.5,424.4 272.7,420.8 273.9,416.1 275.1,410.5 276.2,403.5 278.5,384.0 281.4,353.5 282.8,311.3 283.5,298.7 284.2,288.5 284.8,282.8 285.5,278.7 286.4,275.8 287.6,274.2 288.4,273.7 289.5,273.4 293.6,273.2 454.6,273.2" stroke="#ffc000" stroke-dasharray="1.5 1.5"/><path d="M44.2,433.8 202.7,433.8 206.8,433.6 207.9,433.3 208.8,432.8 209.9,431.2 210.8,428.3 211.5,424.2 212.2,418.5 212.9,408.3 213.5,395.7 214.9,353.5 217.8,323.0 220.2,303.5 221.3,296.5 222.4,290.9 223.6,286.2 224.9,282.6 226.3,279.6 227.9,277.4 229.7,275.8 231.9,274.6 234.1,273.9 237.0,273.5 246.7,273.2 454.6,273.2" stroke="#c0f000" stroke-dasharray="8 4"/><path d="M44.2,433.8 249.7,433.8 259.4,433.5 262.2,433.1 264.5,432.4 266.6,431.2 268.5,429.6 270.0,427.4 271.5,424.4 272.7,420.8 273.9,416.1 275.1,410.5 276.2,403.5 278.5,384.0 281.4,353.5 282.8,311.3 283.5,298.7 284.2,288.5 284.8,282.8 285.5,278.7 286.4,275.8 287.6,274.2 288.4,273.7 289.5,273.4 293.6,273.2 454.6,273.2" stroke="#c0f000" stroke-dasharray="1.5 1.5"/><path d="M44.2,433.8 202.7,433.8 206.8,433.6 207.9,433.3 208.8,432.8 209.9,431.2 210.8,428.3 211.5,424.2 212.2,418.5 212.9,408.3 213.5,395.7 214.9,353.5 217.8,323.0 220.2,303.5 221.3,296.5 222.4,290.9 223.6,286.2 224.9,282.6 226.3,279.6 227.9,277.4 229.7,275.8 231.9,274.6 234.1,273.9 237.0,273.5 246.7,273.2 454.6,273.2" stroke="#50e020" stroke-dasharray="8 4"/><path d="M44.2,433.8 249.7,433.8 259.4,433.5 262.2,433.1 264.5,432.4 266.6,431.2 268.5,429.6 270.0,427.4 271.5,424.4 272.7,420.8 273.9,416.1 275.1,410.5 276.2,403.5 278.5,384.0 281.4,353.5 282.8,311.3 283.5,298.7 284.2,288.5 284.8,282.8 285.5,278.7 286.4,275.8 287.6,274.2 288.4,273.7 289.5,273.4 293.6,273.2 454.6,273.2" stroke="#50e020" stroke-dasharray="1.5 1.5"/><path d="M44.2,433.7 202.7,433.7 206.8,433.5 207.9,433.2 208.8,432.7 209.9,431.1 210.8,428.2 211.5,424.1 212.2,418.4 212.9,408.2 213.5,395.6 214.9,353.5 217.8,323.0 220.2,303.6 221.3,296.6 222.4,291.0 223.6,286.3 224.9,282.7 226.3,279.7 227.9,277.5 229.7,275.8 231.9,274.7 234.1,274.0 237.0,273.6 246.7,273.3 454.6,273.3" stroke="#00e020" stroke-dasharray="8 4"/><path d="M44.2,433.7 249.7,433.7 259.4,433.4 262.2,433.0 264.5,432.3 266.6,431.2 268.5,429.5 270.0,427.3 271.5,424.3 272.7,420.7 273.9,416.0 275.1,410.4 276.2,403.4 278.5,384.0 281.4,353.5 282.8,311.4 283.5,298.8 284.2,288.6 284.8,282.9 285.5,278.8 286.4,275.9 287.6,274.3 288.4,273.8 289.5,273.5 293.6,273.3 454.6,273.3" stroke="#00e020" stroke-dasharray="1.5 1.5"/><path d="M44.2,433.7 202.7,433.7 206.8,433.4 207.9,433.1 208.8,432.6 209.9,431.0 210.8,428.1 211.5,424.0 212.2,418.4 212.9,408.2 213.5,395.6 214.9,353.5 217.8,323.0 220.2,303.6 221.3,296.6 222.4,291.1 223.6,286.3 224.9,282.8 226.3,279.8 227.9,277.6 229.7,275.9 231.9,274.8 234.1,274.1 237.0,273.7 246.7,273.4 454.6,273.3" stroke="#10e070" stroke-dasharray="8 4"/><path d="M44.2,433.7 249.7,433.6 259.4,433.3 262.2,432.9 264.5,432.2 266.6,431.1 268.5,429.4 270.0,427.2 271.5,424.2 272.7,420.7 273.9,415.9 275.1,410.4 276.2,403.4 278.5,384.0 281.4,353.5 282.8,311.4 283.5,298.8 284.2,288.6 284.8,283.0 285.5,278.9 286.4,276.0 287.6,274.4 288.4,273.9 289.5,273.6 293.6,273.3 454.6,273.3" stroke="#10e070" stroke-dasharray="1.5 1.5"/><path d="M44.2,433.5 202.7,433.5 206.8,433.3 207.9,432.9 208.8,432.4 209.9,430.8 210.8,428.0 211.5,423.9 212.2,418.2 212.9,408.1 213.5,395.5 214.9,353.5 217.8,323.1 220.2,303.7 221.3,296.8 222.4,291.2 223.6,286.5 224.9,282.9 226.3,279.9 227.9,277.8 229.7,276.1 231.9,274.9 234.1,274.3 237.0,273.9 246.7,273.5 454.6,273.5" stroke="#10f0d0" stroke-dasharray="8 4"/><path d="M44.2,433.5 249.7,433.5 259.4,433.1 262.2,432.7 264.5,432.1 266.6,430.9 268.5,429.2 270.0,427.1 271.5,424.1 272.7,420.5 273.9,415.8 275.1,410.2 276.2,403.3 278.5,383.9 281.4,353.5 282.8,311.5 283.5,298.9 284.2,288.8 284.8,283.1 285.5,279.0 286.4,276.2 287.6,274.6 288.4,274.1 289.5,273.7 293.6,273.5 454.6,273.5" stroke="#10f0d0" stroke-dasharray="1.5 1.5"/><path d="M44.2,432.4 205.5,432.4 209.6,432.2 210.7,431.9 211.5,431.4 212.7,430.0 213.6,427.4 214.3,423.6 214.9,418.5 215.6,409.0 216.3,397.3 217.8,353.5 221.0,324.4 223.4,306.4 224.7,299.5 226.0,293.4 227.3,288.6 228.8,284.8 230.4,281.6 232.2,279.2 234.2,277.4 236.6,276.2 239.1,275.5 242.3,275.0 252.9,274.6 454.6,274.6" stroke="#10d0f0" stroke-dasharray="8 4"/><path d="M44.2,432.4 243.4,432.4 254.0,432.0 257.2,431.5 259.8,430.8 262.1,429.6 264.2,427.8 265.9,425.4 267.6,422.2 269.0,418.4 270.3,413.6 271.7,407.5 272.9,400.6 275.4,382.6 278.5,353.5 280.1,309.7 280.7,298.0 281.4,288.5 282.0,283.4 282.7,279.6 283.7,277.0 284.8,275.6 285.6,275.1 286.7,274.8 290.9,274.6 454.6,274.6" stroke="#10d0f0" stroke-dasharray="1.5 1.5"/><path d="M44.2,431.2 210.2,431.1 214.3,431.0 215.4,430.7 216.3,430.2 217.4,428.8 218.2,426.6 218.9,423.2 219.5,418.4 220.3,409.7 221.0,396.6 222.5,353.5 226.0,328.1 228.8,311.2 230.3,303.7 232.0,297.1 233.6,291.9 235.4,287.4 237.4,283.9 239.6,281.3 242.0,279.2 244.9,277.8 248.0,276.9 251.8,276.4 256.7,276.0 264.0,275.9 454.6,275.8" stroke="#10d0f0" stroke-dasharray="8 4"/><path d="M44.2,431.2 232.4,431.1 239.7,431.0 244.6,430.6 248.4,430.1 251.5,429.2 254.3,427.8 256.8,425.7 258.9,423.1 260.9,419.6 262.7,415.1 264.4,409.9 266.0,403.3 267.6,395.8 270.3,378.9 273.8,353.5 275.4,310.4 276.1,297.3 276.8,288.6 277.4,283.8 278.1,280.4 278.9,278.2 280.1,276.8 280.9,276.3 282.0,276.0 286.2,275.9 454.6,275.8" stroke="#10d0f0" stroke-dasharray="1.5 1.5"/><path d="M44.2,428.6 218.2,428.6 222.4,428.5 223.5,428.2 224.4,427.8 225.1,427.1 225.7,426.2 226.6,423.5 227.4,418.9 228.2,412.0 229.4,390.6 230.7,353.5 234.6,333.6 237.7,319.6 240.0,310.9 242.2,303.6 244.6,297.4 247.0,292.4 249.7,288.3 252.6,285.2 255.9,282.8 259.6,281.0 263.6,279.9 268.5,279.1 274.7,278.7 283.4,278.4 454.6,278.4" stroke="#1060f0" stroke-dasharray="8 4"/><path d="M44.2,428.6 213.1,428.5 221.7,428.3 227.9,427.9 232.8,427.1 236.8,426.0 240.5,424.2 243.8,421.8 246.6,418.7 249.3,414.6 251.8,409.6 254.1,403.4 256.4,396.1 258.6,387.4 261.7,373.4 265.6,353.5 266.9,316.4 268.2,295.0 268.9,288.1 269.7,283.5 270.6,280.8 271.3,279.9 272.0,279.2 272.8,278.8 273.9,278.5 278.1,278.4 454.6,278.4" stroke="#1060f0" stroke-dasharray="1.5 1.5"/><path d="M44.2,423.2 145.1,423.2 198.2,423.0 224.5,422.7 226.9,422.5 228.5,421.9 229.2,421.3 229.8,420.4 230.7,417.9 231.5,413.7 232.3,407.4 233.5,387.8 234.8,353.7 238.7,334.1 241.7,320.9 243.8,313.3 245.9,306.6 248.1,301.3 250.4,296.7 252.9,293.2 255.7,290.3 258.7,288.2 262.2,286.7 266.4,285.6 271.8,284.9 278.8,284.4 289.3,284.2 342.6,283.9 454.6,283.8" stroke="#0000e8" stroke-dasharray="8 4"/><path d="M44.2,423.2 162.8,423.1 213.3,422.7 222.7,422.3 229.2,421.6 234.2,420.3 236.4,419.5 238.3,418.4 241.1,416.3 243.7,413.6 245.9,410.3 248.1,406.2 250.1,401.2 252.1,395.4 254.0,388.5 256.1,380.0 261.5,353.3 263.1,313.2 263.9,302.1 264.7,294.1 265.4,290.0 266.2,287.3 267.3,285.7 268.7,284.8 270.4,284.4 273.6,284.3 314.0,284.0 454.6,283.8" stroke="#0000e8" stroke-dasharray="1.5 1.5"/><path d="M44.2,418.2 175.5,417.9 222.6,417.2 228.4,417.0 230.7,416.7 232.3,415.7 233.3,414.1 234.1,411.4 234.8,407.4 235.7,399.5 236.4,388.8 237.9,353.8 241.1,337.8 243.4,327.1 245.3,319.8 247.0,313.8 248.9,308.6 250.7,304.4 252.7,300.9 254.8,297.9 257.2,295.5 259.9,293.6 261.8,292.7 264.1,291.8 269.4,290.7 276.6,290.0 287.9,289.6 311.6,289.2 343.5,288.9 454.6,288.8" stroke="#0000e8" stroke-dasharray="8 4"/><path d="M44.2,418.2 154.4,418.1 209.1,417.5 220.0,417.0 227.0,416.4 232.3,415.2 234.5,414.4 236.5,413.4 239.1,411.6 241.5,409.2 243.7,406.2 245.6,402.7 247.5,398.5 249.3,393.2 251.0,387.3 252.9,380.0 255.2,369.3 258.4,353.3 260.0,318.3 260.7,307.5 261.5,299.7 262.2,295.6 263.0,293.0 264.1,291.3 265.6,290.4 268.1,290.0 274.5,289.8 322.3,289.1 454.6,288.8" stroke="#0000e8" stroke-dasharray="1.5 1.5"/><path d="M44.2,413.6 125.6,413.5 170.9,413.1 209.8,412.2 228.6,411.4 232.7,410.9 234.2,410.0 235.2,408.6 236.2,406.0 236.9,402.3 237.7,395.3 238.4,385.6 240.0,354.0 243.1,336.8 245.6,325.3 247.0,319.7 248.6,314.6 250.1,310.5 251.7,307.1 253.3,304.4 255.1,302.0 257.2,300.1 259.5,298.7 261.7,297.7 264.3,296.9 267.4,296.3 271.3,295.8 283.3,295.1 304.0,294.3 327.5,293.9 356.0,293.6 454.6,293.4" stroke="#6010f0" stroke-dasharray="8 4"/><path d="M44.2,413.6 142.6,413.4 171.1,413.1 194.6,412.7 214.2,412.0 225.5,411.2 229.2,410.8 232.3,410.2 234.8,409.4 237.0,408.4 239.2,406.9 241.2,405.1 243.0,402.8 244.7,400.0 246.2,396.7 247.8,392.5 249.3,387.5 250.7,381.8 253.2,370.4 256.4,353.1 257.9,321.5 258.6,311.9 259.5,304.8 260.2,301.1 261.1,298.5 262.1,297.1 263.7,296.3 267.9,295.8 287.6,294.9 326.8,293.9 372.4,293.5 454.6,293.4" stroke="#6010f0" stroke-dasharray="1.5 1.5"/><path d="M44.2,409.9 125.4,409.7 170.6,409.3 190.2,408.8 208.1,408.1 229.6,407.0 234.6,406.4 236.3,405.6 237.4,404.1 238.3,401.5 239.0,397.8 239.8,392.0 240.5,383.0 242.0,354.0 245.1,337.0 247.6,325.6 250.2,316.3 251.6,312.9 253.0,309.9 254.5,307.5 256.2,305.5 258.0,303.9 260.1,302.6 262.3,301.7 265.1,301.0 272.7,299.9 288.9,298.9 311.4,298.1 333.8,297.6 361.2,297.3 454.6,297.1" stroke="#6010f0" stroke-dasharray="8 4"/><path d="M44.2,409.9 137.1,409.7 164.4,409.4 186.8,408.9 208.8,408.1 224.0,407.2 231.3,406.2 234.0,405.4 236.3,404.5 238.3,403.3 240.2,401.7 241.8,399.7 243.3,397.2 244.8,394.3 246.1,390.8 248.8,381.6 251.2,370.2 254.3,353.2 255.9,324.1 256.6,315.2 257.3,309.3 258.0,305.7 258.9,303.1 260.1,301.6 261.7,300.7 266.8,300.2 289.3,298.9 307.4,298.2 327.1,297.7 372.6,297.3 454.6,297.1" stroke="#6010f0" stroke-dasharray="1.5 1.5"/><path d="M44.2,405.9 125.0,405.8 170.2,405.1 189.1,404.5 206.4,403.6 227.0,402.1 233.8,401.5 236.5,401.1 238.2,400.3 239.3,399.1 240.3,396.9 241.1,393.2 241.8,388.0 242.5,380.0 244.1,354.0 246.9,336.0 249.2,324.9 251.2,317.8 253.4,313.0 254.6,311.1 256.0,309.6 257.5,308.3 259.2,307.3 261.6,306.5 264.7,305.8 274.7,304.6 296.4,303.1 319.6,302.1 340.9,301.6 367.2,301.3 454.6,301.1" stroke="#e000f0" stroke-dasharray="8 4"/><path d="M44.2,405.9 130.9,405.7 157.0,405.4 178.3,404.9 201.2,403.9 222.2,402.5 231.9,401.4 234.7,400.8 237.1,399.9 238.8,398.9 240.4,397.7 241.7,396.2 242.9,394.3 245.1,389.4 247.1,382.3 249.4,371.2 252.3,353.2 253.8,327.2 254.5,319.3 255.2,314.0 256.1,310.4 257.0,308.2 258.1,306.9 259.9,306.1 262.5,305.7 269.9,305.0 291.0,303.5 308.4,302.5 327.4,301.9 372.8,301.3 454.6,301.1" stroke="#e000f0" stroke-dasharray="1.5 1.5"/><path d="M44.2,403.6 125.2,403.4 170.3,402.7 189.1,402.0 206.2,401.0 225.6,399.4 234.3,398.5 237.4,398.0 239.2,397.3 240.5,395.9 241.4,393.7 242.2,390.0 242.9,384.8 243.6,378.2 245.1,354.0 247.8,336.0 249.9,325.0 251.7,319.0 253.6,314.8 254.6,313.3 255.9,311.9 257.2,310.9 258.7,310.1 261.3,309.2 264.8,308.6 278.9,307.1 299.9,305.6 322.1,304.5 343.2,304.0 369.0,303.7 454.6,303.4" stroke="#e000f0" stroke-dasharray="8 4"/><path d="M44.2,403.6 129.2,403.4 154.9,403.0 175.8,402.5 198.1,401.5 218.9,400.0 231.9,398.6 235.2,398.0 237.7,397.1 239.2,396.3 240.6,395.2 241.8,393.9 242.8,392.3 244.7,388.2 246.4,382.2 248.6,371.3 251.2,353.3 252.8,329.1 253.4,322.5 254.1,317.2 254.9,313.6 255.9,311.4 257.1,310.0 258.9,309.2 262.1,308.7 271.5,307.8 291.2,306.1 308.5,305.1 327.3,304.4 347.7,303.9 372.7,303.6 454.6,303.4" stroke="#e000f0" stroke-dasharray="1.5 1.5"/><path d="M44.2,401.3 125.3,401.0 150.1,400.7 170.4,400.1 189.0,399.3 205.9,398.2 224.1,396.4 238.2,394.6 240.2,393.9 241.5,392.5 242.5,390.1 243.3,386.5 244.7,375.0 246.1,353.9 248.5,336.5 250.5,325.6 252.0,320.7 253.6,317.2 255.6,314.8 256.8,313.9 258.1,313.3 260.9,312.5 265.0,311.7 284.4,309.6 303.6,308.1 324.2,307.0 345.0,306.4 370.6,306.0 454.6,305.7" stroke="#e000f0" stroke-dasharray="8 4"/><path d="M44.2,401.3 127.6,401.0 153.0,400.6 173.7,400.0 194.3,399.0 213.5,397.5 231.8,395.5 235.7,394.8 238.3,394.0 240.8,392.5 242.7,390.1 244.4,386.6 245.8,381.7 247.9,370.8 250.2,353.4 251.7,332.3 253.0,320.8 253.8,317.2 254.8,314.8 256.2,313.4 258.1,312.7 273.0,310.8 291.5,308.9 308.6,307.7 327.3,306.9 347.7,306.3 372.7,306.0 454.6,305.7" stroke="#e000f0" stroke-dasharray="1.5 1.5"/><path d="M44.2,398.2 124.9,397.9 149.8,397.5 170.1,396.9 188.6,396.0 205.4,394.6 222.6,392.8 238.3,390.5 240.5,389.8 241.8,388.6 242.8,386.6 243.8,383.1 245.0,373.8 246.7,352.3 248.9,336.5 250.7,327.3 252.1,323.2 253.5,320.5 255.2,318.6 257.6,317.3 260.6,316.5 265.7,315.6 287.5,312.9 305.7,311.4 325.4,310.2 346.0,309.6 371.4,309.1 454.6,308.8" stroke="#ff00c8" stroke-dasharray="8 4"/><path d="M44.2,398.2 126.7,397.9 151.9,397.5 172.4,396.8 192.1,395.7 210.2,394.2 231.1,391.6 236.0,390.8 238.8,390.0 241.1,388.8 242.8,386.9 244.3,384.1 245.6,380.0 247.5,370.8 249.6,355.1 251.3,333.5 252.6,324.3 253.5,320.8 254.5,318.8 255.9,317.6 258.0,316.8 274.4,314.5 292.0,312.5 309.0,311.1 327.5,310.2 347.9,309.5 372.9,309.1 454.6,308.8" stroke="#ff00c8" stroke-dasharray="1.5 1.5"/><path d="M44.2,395.2 124.9,394.9 149.8,394.5 170.1,393.9 188.5,392.8 205.2,391.4 221.9,389.4 238.5,386.9 240.9,386.2 242.3,385.1 243.4,383.2 244.4,380.0 245.6,371.7 247.1,353.9 248.2,345.9 249.7,335.9 251.2,329.0 252.5,325.7 253.8,323.4 255.5,321.9 257.6,320.8 261.0,320.0 267.6,318.9 289.1,316.1 306.9,314.4 326.1,313.3 346.7,312.5 371.9,312.1 454.6,311.8" stroke="#ff00c8" stroke-dasharray="8 4"/><path d="M44.2,395.2 126.1,394.9 151.2,394.5 171.6,393.8 190.8,392.7 208.5,391.1 229.6,388.3 235.7,387.4 238.8,386.5 241.3,385.2 242.3,384.2 243.1,383.1 244.6,380.0 245.9,375.1 247.1,368.5 248.5,359.1 249.2,353.5 250.8,334.8 251.6,329.6 252.4,325.7 253.2,323.5 254.3,321.9 255.8,321.0 257.9,320.4 275.3,317.8 292.3,315.7 309.2,314.2 327.6,313.2 348.0,312.5 373.0,312.1 454.6,311.8" stroke="#ff00c8" stroke-dasharray="1.5 1.5"/><path d="M44.2,392.2 124.8,391.8 149.7,391.4 169.9,390.7 188.1,389.6 204.8,388.1 221.1,386.0 238.4,383.2 241.2,382.6 242.8,381.7 244.0,380.5 244.9,378.5 245.7,375.3 246.4,371.0 248.2,353.7 249.1,347.4 250.3,339.9 251.6,334.3 252.9,330.1 254.4,327.3 256.3,325.5 258.9,324.3 262.9,323.4 271.2,322.0 291.0,319.3 308.3,317.6 327.2,316.4 347.6,315.7 372.7,315.2 454.6,314.8" stroke="#d43c9e" stroke-dasharray="8 4"/><path d="M44.2,392.2 125.3,391.8 150.2,391.4 170.5,390.6 189.3,389.5 206.5,387.9 226.1,385.2 233.7,384.0 237.5,383.1 240.1,381.9 241.9,380.1 243.4,377.3 244.8,373.2 246.0,367.5 247.2,360.0 248.2,353.7 249.9,336.5 250.6,332.1 251.5,328.9 252.4,326.9 253.6,325.6 255.2,324.8 258.0,324.2 276.1,321.3 292.6,319.1 309.4,317.5 327.8,316.4 348.2,315.7 373.1,315.2 454.6,314.8" stroke="#d43c9e" stroke-dasharray="1.5 1.5"/><path d="M44.2,389.2 124.2,388.9 149.0,388.5 169.1,387.8 187.2,386.7 203.7,385.2 219.7,383.3 237.0,380.5 240.6,379.8 242.4,379.1 243.8,378.0 244.8,376.2 245.5,374.0 246.2,370.5 247.1,363.7 248.2,353.7 250.0,342.9 251.6,336.3 252.9,332.5 254.4,330.0 256.4,328.3 259.1,327.1 263.5,326.2 272.5,324.7 291.6,322.1 308.8,320.5 327.5,319.3 347.9,318.6 372.9,318.1 454.6,317.8" stroke="#d43c9e" stroke-dasharray="8 4"/><path d="M44.2,389.2 125.0,388.9 149.9,388.4 170.2,387.7 188.9,386.6 205.9,385.0 224.8,382.5 233.2,381.2 237.3,380.2 240.0,379.1 241.9,377.5 243.4,374.9 244.8,371.2 246.3,364.5 248.2,353.7 249.2,343.7 250.1,337.0 250.8,333.5 251.7,331.0 252.7,329.3 254.1,328.2 256.1,327.5 260.1,326.8 277.8,323.9 294.0,321.9 310.7,320.4 328.9,319.3 349.1,318.6 374.0,318.1 454.6,317.8" stroke="#d43c9e" stroke-dasharray="1.5 1.5"/></g>
<g stroke="#555" stroke-width="1"><line x1="44.20" y1="270.0" x2="44.20" y2="274.0"/><line x1="44.20" y1="437.0" x2="44.20" y2="433.0"/><line x1="85.24" y1="270.0" x2="85.24" y2="274.0"/><line x1="85.24" y1="437.0" x2="85.24" y2="433.0"/><line x1="126.28" y1="270.0" x2="126.28" y2="274.0"/><line x1="126.28" y1="437.0" x2="126.28" y2="433.0"/><line x1="167.32" y1="270.0" x2="167.32" y2="274.0"/><line x1="167.32" y1="437.0" x2="167.32" y2="433.0"/><line x1="208.36" y1="270.0" x2="208.36" y2="274.0"/><line x1="208.36" y1="437.0" x2="208.36" y2="433.0"/><line x1="249.40" y1="270.0" x2="249.40" y2="274.0"/><line x1="249.40" y1="437.0" x2="249.40" y2="433.0"/><line x1="290.44" y1="270.0" x2="290.44" y2="274.0"/><line x1="290.44" y1="437.0" x2="290.44" y2="433.0"/><line x1="331.48" y1="270.0" x2="331.48" y2="274.0"/><line x1="331.48" y1="437.0" x2="331.48" y2="433.0"/><line x1="372.52" y1="270.0" x2="372.52" y2="274.0"/><line x1="372.52" y1="437.0" x2="372.52" y2="433.0"/><line x1="413.56" y1="270.0" x2="413.56" y2="274.0"/><line x1="413.56" y1="437.0" x2="413.56" y2="433.0"/><line x1="454.60" y1="270.0" x2="454.60" y2="274.0"/><line x1="454.60" y1="437.0" x2="454.60" y2="433.0"/><line x1="44.2" y1="437.00" x2="48.2" y2="437.00"/><line x1="454.6" y1="437.00" x2="450.6" y2="437.00"/><line x1="44.2" y1="353.50" x2="48.2" y2="353.50"/><line x1="454.6" y1="353.50" x2="450.6" y2="353.50"/><line x1="44.2" y1="270.00" x2="48.2" y2="270.00"/><line x1="454.6" y1="270.00" x2="450.6" y2="270.00"/></g>
<rect x="44.2" y="270.0" width="410.40000000000003" height="167.0" fill="none" stroke="#7a7a7a" stroke-width="1.3"/>
<text x="44.20" y="453.0" text-anchor="middle" font-size="14">-1</text><text x="85.24" y="453.0" text-anchor="middle" font-size="14">-0.8</text><text x="126.28" y="453.0" text-anchor="middle" font-size="14">-0.6</text><text x="167.32" y="453.0" text-anchor="middle" font-size="14">-0.4</text><text x="208.36" y="453.0" text-anchor="middle" font-size="14">-0.2</text><text x="249.40" y="453.0" text-anchor="middle" font-size="14">0</text><text x="290.44" y="453.0" text-anchor="middle" font-size="14">0.2</text><text x="331.48" y="453.0" text-anchor="middle" font-size="14">0.4</text><text x="372.52" y="453.0" text-anchor="middle" font-size="14">0.6</text><text x="413.56" y="453.0" text-anchor="middle" font-size="14">0.8</text><text x="454.60" y="453.0" text-anchor="middle" font-size="14">1</text><text x="38.7" y="272.60" text-anchor="end" font-size="14">1</text><text x="38.7" y="356.10" text-anchor="end" font-size="14">0</text><text x="38.7" y="439.60" text-anchor="end" font-size="14">-1</text>
<text x="249.40" y="473.5" text-anchor="middle" font-size="15.3"><tspan font-style="italic">B</tspan> (T)</text>
<text transform="translate(18,352.30) rotate(-90)" text-anchor="middle" font-size="16">R<tspan font-size="9.2" font-style="italic" dy="4.2">yx</tspan><tspan dy="-4.2"> /R</tspan><tspan font-size="10" dy="4.2">K</tspan></text>
<text x="249.40" y="256.5" text-anchor="middle" font-size="14">V<tspan font-size="11" dy="5">Gate</tspan><tspan dy="-5"> = −1.9 V</tspan></text>
<text x="0.8" y="253.8" font-size="16.2">(b)</text>
<rect x="471.3" y="280.50" width="16.60" height="12.95" fill="#c8308c"/><rect x="471.3" y="293.15" width="16.60" height="12.95" fill="#ff00c8"/><rect x="471.3" y="305.81" width="16.60" height="12.95" fill="#e000f0"/><rect x="471.3" y="318.46" width="16.60" height="12.95" fill="#6010f0"/><rect x="471.3" y="331.11" width="16.60" height="12.95" fill="#0000e8"/><rect x="471.3" y="343.77" width="16.60" height="12.95" fill="#1060f0"/><rect x="471.3" y="356.42" width="16.60" height="12.95" fill="#10d0f0"/><rect x="471.3" y="369.07" width="16.60" height="12.95" fill="#10f0d0"/><rect x="471.3" y="381.73" width="16.60" height="12.95" fill="#10e070"/><rect x="471.3" y="394.38" width="16.60" height="12.95" fill="#00e020"/><rect x="471.3" y="407.03" width="16.60" height="12.95" fill="#50e020"/><rect x="471.3" y="419.69" width="16.60" height="12.95" fill="#c0f000"/><rect x="471.3" y="432.34" width="16.60" height="12.95" fill="#ffc000"/><rect x="471.3" y="444.99" width="16.60" height="12.95" fill="#ff6000"/><rect x="471.3" y="457.65" width="16.60" height="12.95" fill="#ff0000"/>
<rect x="471.3" y="280.50" width="16.60" height="189.80" fill="none" stroke="#444" stroke-width="0.8"/>
<g stroke="#333" stroke-width="0.8"><line x1="485.70" y1="293.15" x2="487.9" y2="293.15"/><line x1="485.70" y1="305.81" x2="487.9" y2="305.81"/><line x1="485.70" y1="318.46" x2="487.9" y2="318.46"/><line x1="485.70" y1="331.11" x2="487.9" y2="331.11"/><line x1="485.70" y1="343.77" x2="487.9" y2="343.77"/><line x1="485.70" y1="356.42" x2="487.9" y2="356.42"/><line x1="485.70" y1="369.07" x2="487.9" y2="369.07"/><line x1="485.70" y1="381.73" x2="487.9" y2="381.73"/><line x1="485.70" y1="394.38" x2="487.9" y2="394.38"/><line x1="485.70" y1="407.03" x2="487.9" y2="407.03"/><line x1="485.70" y1="419.69" x2="487.9" y2="419.69"/><line x1="485.70" y1="432.34" x2="487.9" y2="432.34"/><line x1="485.70" y1="444.99" x2="487.9" y2="444.99"/><line x1="485.70" y1="457.65" x2="487.9" y2="457.65"/></g>
<text x="494.7" y="284.20" font-size="12.5">30.0</text>
<text x="494.7" y="311.31" font-size="12.5">9.40</text>
<text x="494.7" y="338.43" font-size="12.5">3.00</text>
<text x="494.7" y="365.54" font-size="12.5">0.93</text>
<text x="494.7" y="392.66" font-size="12.5">0.29</text>
<text x="494.7" y="419.77" font-size="12.5">0.10</text>
<text x="494.7" y="446.89" font-size="12.5">0.03</text>
<text x="494.7" y="474.00" font-size="12.5">0.01</text>
<text x="481.20" y="265.8" text-anchor="middle" font-size="13.4">T (K)</text>
<rect x="344.7" y="395.3" width="96.3" height="26.5" fill="#fff" stroke="#222" stroke-width="1.2"/>
<line x1="347.7" y1="402.6" x2="380.7" y2="402.6" stroke="#8c8c8c" stroke-width="1.6" stroke-dasharray="7 4"/>
<line x1="347.7" y1="415.8" x2="380.7" y2="415.8" stroke="#8c8c8c" stroke-width="1.6" stroke-dasharray="2 2.5"/>
<text x="383.2" y="406.2" font-size="11">5 T to −5 T</text>
<text x="383.2" y="419.2" font-size="11">−5 T to 5 T</text>
<clipPath id="clip2"><rect x="44.2" y="511.3" width="410.40000000000003" height="167.0"/></clipPath>
<g stroke="#e6e6e6" stroke-width="1"><line x1="85.24" y1="511.3" x2="85.24" y2="678.3"/><line x1="126.28" y1="511.3" x2="126.28" y2="678.3"/><line x1="167.32" y1="511.3" x2="167.32" y2="678.3"/><line x1="208.36" y1="511.3" x2="208.36" y2="678.3"/><line x1="249.40" y1="511.3" x2="249.40" y2="678.3"/><line x1="290.44" y1="511.3" x2="290.44" y2="678.3"/><line x1="331.48" y1="511.3" x2="331.48" y2="678.3"/><line x1="372.52" y1="511.3" x2="372.52" y2="678.3"/><line x1="413.56" y1="511.3" x2="413.56" y2="678.3"/><line x1="44.2" y1="594.80" x2="454.6" y2="594.80"/></g>
<g clip-path="url(#clip2)" fill="none" stroke-width="1.7"><path d="M44.2,677.0 198.5,677.0 203.2,676.8 204.4,676.5 205.2,676.0 206.2,674.2 206.9,671.1 207.5,666.1 208.2,658.1 213.9,545.8 215.1,525.9 215.7,519.8 216.5,516.0 217.3,514.1 217.9,513.4 218.6,513.0 220.9,512.6 226.7,512.6 454.6,512.6" stroke="#ff0000" stroke-dasharray="8 4"/><path d="M44.2,677.0 269.2,677.0 275.1,677.0 277.3,676.6 278.0,676.2 278.6,675.5 279.5,673.6 280.2,669.8 280.8,663.7 282.0,643.8 287.8,531.5 288.4,523.5 289.0,518.5 289.7,515.4 290.7,513.6 291.6,513.1 292.7,512.8 297.4,512.6 454.6,512.6" stroke="#ff0000" stroke-dasharray="1.5 1.5"/><path d="M44.2,675.6 202.5,675.6 206.6,675.4 207.7,675.1 208.6,674.5 209.7,672.9 210.6,670.1 211.3,665.9 212.0,660.2 212.7,649.9 213.3,637.2 214.7,594.8 217.6,564.1 220.0,544.5 221.1,537.5 222.2,531.8 223.4,527.1 224.7,523.5 226.1,520.5 227.6,518.3 229.5,516.6 231.7,515.4 233.9,514.7 236.8,514.3 246.5,514.0 454.6,514.0" stroke="#ff6000" stroke-dasharray="8 4"/><path d="M44.2,675.6 249.5,675.6 259.1,675.3 262.0,674.9 264.3,674.2 266.4,673.0 268.3,671.3 269.8,669.1 271.3,666.1 272.5,662.5 273.7,657.8 274.8,652.1 276.0,645.1 278.3,625.5 281.2,594.8 282.6,552.4 283.3,539.7 284.0,529.4 284.6,523.7 285.3,519.5 286.2,516.7 287.4,515.1 288.2,514.5 289.3,514.2 293.4,514.0 454.6,514.0" stroke="#ff6000" stroke-dasharray="1.5 1.5"/><path d="M44.2,675.1 202.5,675.1 206.6,674.9 207.7,674.6 208.6,674.1 209.7,672.5 210.6,669.6 211.3,665.5 212.0,659.8 212.7,649.6 213.3,637.0 214.7,594.8 217.6,564.3 220.0,544.8 221.1,537.8 222.2,532.2 223.4,527.5 224.7,523.9 226.1,520.9 227.6,518.7 229.5,517.1 231.7,515.9 233.9,515.2 236.8,514.8 246.5,514.5 454.6,514.5" stroke="#ffc000" stroke-dasharray="8 4"/><path d="M44.2,675.1 249.5,675.1 259.1,674.8 262.0,674.4 264.3,673.7 266.4,672.5 268.3,670.9 269.8,668.7 271.3,665.7 272.5,662.1 273.7,657.4 274.8,651.8 276.0,644.8 278.3,625.3 281.2,594.8 282.6,552.6 283.3,540.0 284.0,529.8 284.6,524.1 285.3,520.0 286.2,517.1 287.4,515.5 288.2,515.0 289.3,514.7 293.4,514.5 454.6,514.5" stroke="#ffc000" stroke-dasharray="1.5 1.5"/><path d="M44.2,674.6 202.5,674.6 206.6,674.4 207.7,674.1 208.6,673.6 209.7,672.0 210.6,669.1 211.3,665.0 212.0,659.4 212.7,649.3 213.3,636.7 214.7,594.8 217.6,564.5 220.0,545.1 221.1,538.2 222.2,532.6 223.4,527.9 224.7,524.4 226.1,521.4 227.6,519.2 229.5,517.5 231.7,516.4 233.9,515.7 236.8,515.3 246.5,515.0 454.6,515.0" stroke="#c0f000" stroke-dasharray="8 4"/><path d="M44.2,674.6 249.5,674.6 259.1,674.3 262.0,673.9 264.3,673.2 266.4,672.1 268.3,670.4 269.8,668.2 271.3,665.2 272.5,661.7 273.7,657.0 274.8,651.4 276.0,644.5 278.3,625.1 281.2,594.8 282.6,552.9 283.3,540.3 284.0,530.2 284.6,524.6 285.3,520.5 286.2,517.6 287.4,516.0 288.2,515.5 289.3,515.2 293.4,515.0 454.6,515.0" stroke="#c0f000" stroke-dasharray="1.5 1.5"/><path d="M44.2,674.1 202.5,674.1 206.6,673.9 207.7,673.6 208.6,673.1 209.7,671.5 210.6,668.7 211.3,664.6 212.0,659.0 212.7,648.9 213.3,636.5 214.7,594.8 217.6,564.7 220.0,545.4 221.1,538.5 222.2,533.0 223.4,528.3 224.7,524.8 226.1,521.9 227.6,519.7 229.5,518.0 231.7,516.9 233.9,516.2 236.8,515.8 246.5,515.5 454.6,515.5" stroke="#50e020" stroke-dasharray="8 4"/><path d="M44.2,674.1 249.5,674.1 259.1,673.8 262.0,673.4 264.3,672.7 266.4,671.6 268.3,669.9 269.8,667.7 271.3,664.8 272.5,661.3 273.7,656.6 274.8,651.1 276.0,644.2 278.3,624.9 281.2,594.8 282.6,553.1 283.3,540.7 284.0,530.6 284.6,525.0 285.3,520.9 286.2,518.1 287.4,516.5 288.2,516.0 289.3,515.7 293.4,515.5 454.6,515.5" stroke="#50e020" stroke-dasharray="1.5 1.5"/><path d="M44.2,673.5 202.5,673.4 206.6,673.2 207.7,672.9 208.6,672.4 209.7,670.9 210.6,668.0 211.3,664.0 212.0,658.5 212.7,648.5 213.3,636.1 214.7,594.8 217.6,564.9 220.0,545.9 221.1,539.0 222.2,533.5 223.4,528.9 224.7,525.4 226.1,522.5 227.6,520.3 229.5,518.7 231.7,517.5 233.9,516.9 236.8,516.5 246.5,516.2 454.6,516.1" stroke="#00e020" stroke-dasharray="8 4"/><path d="M44.2,673.5 249.5,673.4 259.1,673.1 262.0,672.7 264.3,672.1 266.4,670.9 268.3,669.3 269.8,667.1 271.3,664.2 272.5,660.7 273.7,656.1 274.8,650.6 276.0,643.7 278.3,624.7 281.2,594.8 282.6,553.5 283.3,541.1 284.0,531.1 284.6,525.6 285.3,521.6 286.2,518.7 287.4,517.2 288.2,516.7 289.3,516.4 293.4,516.2 454.6,516.1" stroke="#00e020" stroke-dasharray="1.5 1.5"/><path d="M44.2,672.5 202.5,672.4 206.6,672.2 207.7,671.9 208.6,671.4 209.7,669.9 210.6,667.1 211.3,663.1 212.0,657.6 212.7,647.8 213.3,635.6 214.7,594.8 217.6,565.3 220.0,546.5 221.1,539.7 222.2,534.3 223.4,529.7 224.7,526.3 226.1,523.4 227.6,521.3 229.5,519.6 231.7,518.5 233.9,517.9 236.8,517.5 246.5,517.2 454.6,517.1" stroke="#10e070" stroke-dasharray="8 4"/><path d="M44.2,672.5 249.5,672.4 259.1,672.1 262.0,671.7 264.3,671.1 266.4,670.0 268.3,668.3 269.8,666.2 271.3,663.3 272.5,659.9 273.7,655.3 274.8,649.9 276.0,643.1 278.3,624.3 281.2,594.8 282.6,554.0 283.3,541.8 284.0,532.0 284.6,526.5 285.3,522.5 286.2,519.7 287.4,518.2 288.2,517.7 289.3,517.4 293.4,517.2 454.6,517.1" stroke="#10e070" stroke-dasharray="1.5 1.5"/><path d="M44.2,671.2 202.5,671.2 206.6,671.0 207.7,670.7 208.6,670.2 209.7,668.7 210.6,665.9 211.3,662.0 212.0,656.6 212.7,646.9 213.3,634.9 214.7,594.8 217.6,565.8 220.0,547.3 221.1,540.6 222.2,535.3 223.4,530.8 224.7,527.4 226.1,524.5 227.6,522.5 229.5,520.9 231.7,519.8 233.9,519.1 236.8,518.7 246.5,518.4 454.6,518.4" stroke="#10f0d0" stroke-dasharray="8 4"/><path d="M44.2,671.2 249.5,671.2 259.1,670.9 262.0,670.5 264.3,669.8 266.4,668.7 268.3,667.1 269.8,665.1 271.3,662.2 272.5,658.8 273.7,654.3 274.8,649.0 276.0,642.3 278.3,623.8 281.2,594.8 282.6,554.7 283.3,542.7 284.0,533.0 284.6,527.6 285.3,523.7 286.2,520.9 287.4,519.4 288.2,518.9 289.3,518.6 293.4,518.4 454.6,518.4" stroke="#10f0d0" stroke-dasharray="1.5 1.5"/><path d="M44.2,669.5 205.3,669.5 209.4,669.3 210.5,669.1 211.3,668.6 212.5,667.3 213.4,664.8 214.1,661.2 214.7,656.3 215.4,647.4 216.1,636.2 217.6,594.8 220.8,567.2 223.2,550.2 224.5,543.6 225.8,537.9 227.1,533.4 228.6,529.7 230.2,526.7 232.0,524.4 234.0,522.8 236.4,521.6 238.9,520.9 242.1,520.4 252.7,520.1 454.6,520.1" stroke="#10d0f0" stroke-dasharray="8 4"/><path d="M44.2,669.5 243.2,669.5 253.8,669.2 257.0,668.7 259.6,668.0 261.9,666.8 264.0,665.2 265.7,662.9 267.4,659.9 268.8,656.2 270.1,651.7 271.5,646.0 272.7,639.4 275.2,622.4 278.3,594.8 279.9,553.4 280.5,542.2 281.2,533.3 281.8,528.4 282.5,524.8 283.5,522.3 284.6,521.0 285.4,520.5 286.5,520.3 290.6,520.1 454.6,520.1" stroke="#10d0f0" stroke-dasharray="1.5 1.5"/><path d="M44.2,670.4 207.9,670.4 212.1,670.2 213.2,669.9 214.0,669.4 215.1,668.1 216.1,665.6 216.8,662.0 217.4,657.0 218.1,648.0 218.7,636.7 220.3,594.8 223.5,569.0 226.2,551.9 227.6,544.6 229.1,538.7 230.6,533.7 232.3,529.7 234.0,526.6 236.0,524.1 238.2,522.3 240.9,520.9 243.8,520.2 247.2,519.7 258.6,519.3 454.6,519.2" stroke="#10f0d0" stroke-dasharray="8 4"/><path d="M44.2,670.4 237.4,670.3 248.7,669.9 252.2,669.4 255.0,668.7 257.7,667.3 260.0,665.5 261.9,663.0 263.7,659.9 265.3,655.9 266.8,650.9 268.3,645.0 269.7,637.7 272.4,620.6 275.7,594.8 277.2,552.9 277.8,541.6 278.5,532.6 279.2,527.6 279.9,524.0 280.8,521.5 281.9,520.2 282.7,519.7 283.9,519.4 288.0,519.2 454.6,519.2" stroke="#10f0d0" stroke-dasharray="1.5 1.5"/><path d="M44.2,667.4 212.1,667.4 216.2,667.3 217.3,667.0 218.1,666.5 219.2,665.2 220.1,663.2 220.8,660.0 221.4,655.5 222.1,647.4 222.8,635.1 224.4,594.8 227.9,571.0 230.6,555.3 232.2,548.2 233.8,542.1 235.4,537.2 237.3,533.0 239.2,529.7 241.4,527.2 243.9,525.3 246.7,524.0 249.8,523.2 253.6,522.6 258.5,522.3 265.8,522.2 454.6,522.2" stroke="#10d0f0" stroke-dasharray="8 4"/><path d="M44.2,667.4 230.2,667.4 237.4,667.3 242.3,667.0 246.1,666.4 249.2,665.6 252.1,664.3 254.5,662.4 256.7,659.9 258.6,656.6 260.5,652.4 262.1,647.5 263.8,641.4 265.3,634.3 268.1,618.6 271.6,594.8 273.1,554.5 273.8,542.2 274.5,534.1 275.2,529.6 275.9,526.4 276.7,524.4 277.8,523.1 278.6,522.6 279.8,522.3 284.0,522.2 454.6,522.2" stroke="#10d0f0" stroke-dasharray="1.5 1.5"/><path d="M44.2,660.3 220.1,660.3 224.3,660.2 226.2,659.6 226.9,659.0 227.5,658.2 228.5,655.8 229.3,651.8 230.0,645.8 231.2,627.2 232.6,594.8 236.4,575.2 239.2,562.4 241.2,555.2 243.1,549.2 245.1,544.4 247.2,540.3 249.5,537.1 252.1,534.6 254.9,532.6 258.2,531.3 261.8,530.4 266.1,529.8 271.7,529.5 279.7,529.3 454.6,529.3" stroke="#1060f0" stroke-dasharray="8 4"/><path d="M44.2,660.3 216.4,660.3 224.3,660.1 229.8,659.8 234.1,659.2 237.7,658.3 241.0,657.0 243.9,655.0 246.4,652.5 248.7,649.3 250.8,645.2 252.8,640.4 254.7,634.4 256.7,627.2 259.6,614.4 263.4,594.8 264.7,562.4 265.9,543.8 266.6,537.8 267.5,533.8 268.4,531.4 269.0,530.6 269.7,530.0 271.7,529.4 275.9,529.3 454.6,529.3" stroke="#1060f0" stroke-dasharray="1.5 1.5"/><path d="M44.2,653.2 126.9,652.8 206.4,652.1 225.7,651.8 227.9,651.6 229.3,651.2 230.6,649.9 231.5,647.9 232.4,644.4 233.1,639.2 234.3,623.0 235.7,595.0 239.3,577.0 242.2,565.1 244.0,559.3 245.8,554.2 247.7,550.1 249.6,546.8 251.8,544.1 254.1,542.1 256.8,540.5 260.0,539.3 264.8,538.3 271.4,537.7 299.8,537.0 357.2,536.5 454.6,536.4" stroke="#0000e8" stroke-dasharray="8 4"/><path d="M44.2,653.2 138.4,652.7 218.0,651.9 226.3,651.6 232.0,651.0 236.3,650.1 239.8,648.8 242.2,647.2 244.4,645.2 246.3,642.8 248.2,639.7 249.9,636.0 251.6,631.6 254.7,620.5 257.1,610.2 260.3,594.5 261.8,563.0 262.5,553.4 263.4,546.3 264.1,542.7 264.9,540.3 265.9,538.8 267.5,537.9 269.8,537.6 275.8,537.4 328.0,536.7 454.6,536.4" stroke="#0000e8" stroke-dasharray="1.5 1.5"/><path d="M44.2,648.9 112.2,648.4 175.5,647.6 226.5,646.8 229.6,646.6 231.3,646.1 232.5,645.3 233.4,643.7 234.1,641.4 234.7,638.2 235.4,632.4 236.2,623.7 237.7,595.0 241.3,577.6 244.2,566.1 245.7,561.2 247.3,556.9 249.1,553.3 250.9,550.4 252.9,548.2 255.1,546.3 257.6,545.0 260.6,544.0 265.9,543.0 273.9,542.5 290.3,541.9 314.3,541.4 366.9,540.9 454.6,540.7" stroke="#0000e8" stroke-dasharray="8 4"/><path d="M44.2,648.9 134.2,648.2 217.5,646.9 226.1,646.6 231.7,646.1 235.9,645.3 239.1,644.1 241.4,642.8 243.3,641.1 245.1,639.1 246.7,636.5 248.3,633.5 249.8,629.6 252.7,620.1 255.1,609.6 258.2,594.5 259.8,565.8 260.5,557.0 261.3,550.6 262.0,547.3 262.9,544.9 264.0,543.7 265.5,542.9 269.3,542.5 287.2,542.0 331.5,541.1 378.6,540.8 454.6,540.7" stroke="#0000e8" stroke-dasharray="1.5 1.5"/><path d="M44.2,644.9 103.3,644.2 157.8,643.2 227.6,641.4 231.4,641.2 233.4,640.7 234.5,639.9 235.4,638.5 236.2,636.4 236.8,633.6 237.5,628.4 238.2,620.6 239.8,595.1 243.1,578.9 245.9,568.1 247.3,563.8 248.9,560.1 250.5,556.9 252.2,554.6 254.0,552.6 256.1,551.1 258.4,549.9 261.2,549.1 267.6,548.1 278.4,547.3 300.9,546.3 325.2,545.6 374.3,544.9 454.6,544.7" stroke="#6010f0" stroke-dasharray="8 4"/><path d="M44.2,644.9 129.4,643.8 211.5,641.8 223.6,641.4 230.2,641.0 234.9,640.2 238.4,639.1 240.5,638.0 242.2,636.7 243.9,634.9 245.3,632.9 246.7,630.3 248.1,627.2 250.6,619.4 253.1,609.3 256.2,594.4 257.7,568.8 258.4,561.0 259.1,555.8 259.9,552.6 260.8,550.3 261.9,549.0 263.6,548.3 268.8,547.8 293.3,546.6 333.4,545.4 379.9,544.9 454.6,544.7" stroke="#6010f0" stroke-dasharray="1.5 1.5"/><path d="M44.2,641.8 99.9,640.9 151.3,639.7 228.3,636.8 233.3,636.6 235.4,636.1 236.6,635.3 237.5,634.1 238.3,631.9 238.9,629.1 239.7,624.2 240.3,618.0 241.8,595.1 245.1,579.3 247.8,569.3 249.0,565.8 250.4,562.5 251.9,560.0 253.4,557.9 255.0,556.3 257.0,555.0 259.1,554.0 261.8,553.3 265.2,552.6 269.7,552.1 286.2,550.9 307.6,549.7 330.1,548.9 377.7,548.1 454.6,547.8" stroke="#6010f0" stroke-dasharray="8 4"/><path d="M44.2,641.8 115.7,640.6 182.5,638.6 226.9,636.8 233.5,636.1 235.9,635.6 237.9,634.9 239.8,634.0 241.4,632.8 242.8,631.3 244.2,629.5 245.4,627.3 246.6,624.7 248.9,618.0 251.1,609.0 254.1,594.4 255.7,571.5 256.4,564.4 257.1,559.8 257.8,556.9 258.7,554.8 259.9,553.6 261.6,552.8 271.0,551.9 294.9,550.3 313.6,549.4 333.6,548.8 380.0,548.1 454.6,547.8" stroke="#6010f0" stroke-dasharray="1.5 1.5"/><path d="M44.2,638.6 98.8,637.6 149.1,636.2 184.1,634.8 223.8,633.1 233.6,632.6 236.5,632.1 237.7,631.3 238.6,630.0 239.4,627.9 240.1,625.3 240.8,620.5 241.4,614.7 242.8,595.1 245.9,580.0 248.4,570.8 250.7,565.0 252.0,562.9 253.4,561.1 254.9,559.7 256.7,558.6 258.7,557.7 261.2,557.1 264.9,556.5 270.2,555.9 290.5,554.2 310.5,553.1 331.8,552.2 353.3,551.7 378.8,551.4 454.6,551.0" stroke="#6010f0" stroke-dasharray="8 4"/><path d="M44.2,638.6 108.3,637.4 167.7,635.5 226.8,632.9 234.0,632.2 238.3,631.2 240.0,630.5 241.4,629.5 242.7,628.3 244.0,626.7 246.1,622.7 248.1,617.3 250.3,608.3 253.1,594.5 254.6,573.7 255.2,568.2 256.0,563.7 256.8,560.6 257.7,558.7 258.9,557.5 260.7,556.8 273.5,555.5 295.3,553.9 313.8,552.9 333.6,552.2 380.0,551.3 454.6,551.0" stroke="#6010f0" stroke-dasharray="1.5 1.5"/><path d="M44.2,635.3 97.0,634.1 145.8,632.4 205.5,629.5 233.2,627.9 237.4,627.3 238.7,626.6 239.7,625.5 240.5,623.6 241.1,621.3 242.4,612.1 243.9,595.1 246.7,581.0 248.0,576.2 249.1,572.6 251.1,568.0 252.3,566.2 253.6,564.8 254.9,563.7 256.6,562.8 258.5,562.1 260.9,561.6 272.9,560.0 294.6,558.0 313.4,556.7 333.4,555.7 354.7,555.1 379.9,554.7 454.6,554.3" stroke="#e000f0" stroke-dasharray="8 4"/><path d="M44.2,635.3 102.7,634.0 156.5,632.0 190.3,630.3 226.7,628.3 234.6,627.6 238.9,626.7 241.7,625.3 243.9,623.1 245.7,619.9 247.3,615.7 249.4,607.9 252.1,594.5 253.6,576.5 254.2,571.6 254.9,567.7 255.8,565.0 256.8,563.2 258.0,562.2 260.0,561.5 276.4,559.6 296.1,557.8 314.3,556.6 333.8,555.7 355.1,555.1 380.2,554.7 454.6,554.3" stroke="#e000f0" stroke-dasharray="1.5 1.5"/><path d="M44.2,631.9 96.3,630.5 144.3,628.5 198.8,625.4 233.7,623.0 238.4,622.4 239.8,621.7 240.7,620.8 241.5,619.2 242.1,617.2 243.4,609.4 244.9,595.1 247.9,582.8 249.1,578.8 250.4,575.3 252.6,571.4 253.8,569.9 255.1,568.8 256.7,567.9 258.4,567.1 263.3,566.0 278.6,563.9 297.9,561.8 316.0,560.4 335.4,559.3 356.4,558.6 381.2,558.2 454.6,557.7" stroke="#e000f0" stroke-dasharray="8 4"/><path d="M44.2,631.9 99.7,630.4 150.9,628.2 184.9,626.3 222.5,623.8 232.8,622.9 237.8,622.0 240.5,620.8 242.6,619.0 244.5,616.5 246.1,613.0 248.4,605.9 251.0,594.6 252.6,579.3 253.3,574.7 254.0,571.5 254.8,569.4 256.0,567.8 257.4,566.9 259.6,566.4 278.2,563.9 296.7,561.9 314.8,560.5 334.0,559.4 355.2,558.7 380.3,558.2 454.6,557.7" stroke="#e000f0" stroke-dasharray="1.5 1.5"/><path d="M44.2,627.4 95.7,625.8 143.2,623.5 194.3,620.1 233.9,617.0 239.4,616.3 240.8,615.8 241.8,614.9 242.6,613.5 243.3,611.6 244.6,605.5 245.9,595.1 247.0,589.9 249.0,582.5 250.0,579.7 251.0,577.6 252.0,576.2 253.0,575.1 254.1,574.2 255.5,573.5 258.9,572.5 265.6,571.3 283.9,568.7 301.0,566.7 318.4,565.2 337.2,564.0 358.0,563.2 382.5,562.7 454.6,562.2" stroke="#ff00c8" stroke-dasharray="8 4"/><path d="M44.2,627.4 96.8,625.7 145.4,623.4 172.9,621.7 202.0,619.5 232.6,617.1 236.8,616.6 239.4,616.1 241.9,615.2 243.8,613.7 245.3,611.4 246.6,608.3 248.2,603.0 250.0,594.7 251.1,585.6 252.1,580.1 252.8,577.4 253.6,575.4 254.7,573.9 256.2,573.1 258.3,572.5 263.3,571.7 282.2,568.9 299.6,566.8 317.2,565.3 336.1,564.1 357.0,563.3 381.8,562.7 454.6,562.2" stroke="#ff00c8" stroke-dasharray="1.5 1.5"/><path d="M44.2,623.2 95.2,621.4 142.2,618.9 165.9,617.2 190.5,615.2 225.9,612.1 240.3,610.6 241.7,610.1 242.7,609.5 243.6,608.6 244.3,607.2 245.5,603.1 246.9,595.0 249.0,587.9 250.0,585.1 251.0,583.0 252.2,581.4 253.4,580.3 256.1,578.9 260.6,577.7 275.4,575.1 289.9,572.9 304.1,571.1 318.7,569.7 334.0,568.6 351.1,567.8 369.9,567.2 392.0,566.8 454.6,566.4" stroke="#ff00c8" stroke-dasharray="8 4"/><path d="M44.2,623.2 95.5,621.4 119.4,620.2 142.7,618.8 167.3,617.1 193.0,615.0 230.4,611.6 238.9,610.6 241.2,610.0 242.9,609.0 244.4,607.4 245.6,605.4 247.1,601.4 249.0,594.8 250.1,588.2 251.1,583.9 252.3,581.2 253.6,579.7 255.7,578.7 260.0,577.8 275.9,575.0 289.9,572.9 304.1,571.1 318.7,569.7 334.0,568.6 351.1,567.8 369.9,567.2 392.0,566.8 454.6,566.4" stroke="#ff00c8" stroke-dasharray="1.5 1.5"/><path d="M44.2,619.5 70.4,618.6 95.0,617.5 118.7,616.2 141.8,614.7 164.9,612.9 188.8,610.7 218.0,607.8 241.2,605.3 243.7,604.5 244.5,603.9 245.2,603.1 246.5,600.2 248.0,595.0 250.5,589.2 251.6,587.5 252.6,586.3 253.8,585.2 255.2,584.4 257.5,583.6 260.8,582.8 276.8,579.6 291.4,577.2 305.6,575.2 318.1,573.9 331.3,572.8 345.4,571.9 361.1,571.3 398.8,570.4 454.6,570.1" stroke="#ff00c8" stroke-dasharray="8 4"/><path d="M44.2,619.5 70.2,618.6 94.6,617.5 118.1,616.3 141.1,614.7 164.3,612.9 188.5,610.8 221.1,607.5 237.7,605.6 240.1,605.1 241.8,604.4 243.2,603.4 244.6,601.9 246.1,599.2 248.0,595.0 249.2,590.3 250.2,587.6 251.5,585.8 253.1,584.6 255.0,584.0 258.7,583.2 278.6,579.3 292.3,577.0 305.6,575.2 318.1,573.9 331.3,572.8 345.4,571.9 361.1,571.3 398.8,570.4 454.6,570.1" stroke="#ff00c8" stroke-dasharray="1.5 1.5"/><path d="M44.2,616.1 70.2,615.1 94.7,614.0 118.3,612.6 141.3,611.0 163.8,609.2 187.2,607.0 240.9,601.2 243.6,600.6 245.2,599.7 246.5,598.0 248.0,595.0 250.8,591.2 253.2,589.3 256.3,588.0 269.0,585.1 286.4,581.8 301.2,579.5 316.2,577.7 327.7,576.6 340.0,575.8 368.1,574.5 403.5,573.8 454.6,573.5" stroke="#d43c9e" stroke-dasharray="8 4"/><path d="M44.2,616.1 70.0,615.2 94.2,614.0 117.5,612.7 140.1,611.1 162.7,609.3 185.9,607.1 212.8,604.3 237.2,601.6 241.6,600.6 243.0,600.0 244.4,599.2 246.0,597.6 248.0,595.0 249.2,592.3 250.4,590.4 251.8,589.3 253.7,588.5 269.6,585.0 286.1,581.8 301.0,579.5 316.2,577.7 327.7,576.6 340.0,575.8 368.1,574.5 403.5,573.8 454.6,573.5" stroke="#d43c9e" stroke-dasharray="1.5 1.5"/></g>
<g stroke="#555" stroke-width="1"><line x1="44.20" y1="511.3" x2="44.20" y2="515.3"/><line x1="44.20" y1="678.3" x2="44.20" y2="674.3"/><line x1="85.24" y1="511.3" x2="85.24" y2="515.3"/><line x1="85.24" y1="678.3" x2="85.24" y2="674.3"/><line x1="126.28" y1="511.3" x2="126.28" y2="515.3"/><line x1="126.28" y1="678.3" x2="126.28" y2="674.3"/><line x1="167.32" y1="511.3" x2="167.32" y2="515.3"/><line x1="167.32" y1="678.3" x2="167.32" y2="674.3"/><line x1="208.36" y1="511.3" x2="208.36" y2="515.3"/><line x1="208.36" y1="678.3" x2="208.36" y2="674.3"/><line x1="249.40" y1="511.3" x2="249.40" y2="515.3"/><line x1="249.40" y1="678.3" x2="249.40" y2="674.3"/><line x1="290.44" y1="511.3" x2="290.44" y2="515.3"/><line x1="290.44" y1="678.3" x2="290.44" y2="674.3"/><line x1="331.48" y1="511.3" x2="331.48" y2="515.3"/><line x1="331.48" y1="678.3" x2="331.48" y2="674.3"/><line x1="372.52" y1="511.3" x2="372.52" y2="515.3"/><line x1="372.52" y1="678.3" x2="372.52" y2="674.3"/><line x1="413.56" y1="511.3" x2="413.56" y2="515.3"/><line x1="413.56" y1="678.3" x2="413.56" y2="674.3"/><line x1="454.60" y1="511.3" x2="454.60" y2="515.3"/><line x1="454.60" y1="678.3" x2="454.60" y2="674.3"/><line x1="44.2" y1="678.30" x2="48.2" y2="678.30"/><line x1="454.6" y1="678.30" x2="450.6" y2="678.30"/><line x1="44.2" y1="594.80" x2="48.2" y2="594.80"/><line x1="454.6" y1="594.80" x2="450.6" y2="594.80"/><line x1="44.2" y1="511.30" x2="48.2" y2="511.30"/><line x1="454.6" y1="511.30" x2="450.6" y2="511.30"/></g>
<rect x="44.2" y="511.3" width="410.40000000000003" height="167.0" fill="none" stroke="#7a7a7a" stroke-width="1.3"/>
<text x="44.20" y="694.3" text-anchor="middle" font-size="14">-1</text><text x="85.24" y="694.3" text-anchor="middle" font-size="14">-0.8</text><text x="126.28" y="694.3" text-anchor="middle" font-size="14">-0.6</text><text x="167.32" y="694.3" text-anchor="middle" font-size="14">-0.4</text><text x="208.36" y="694.3" text-anchor="middle" font-size="14">-0.2</text><text x="249.40" y="694.3" text-anchor="middle" font-size="14">0</text><text x="290.44" y="694.3" text-anchor="middle" font-size="14">0.2</text><text x="331.48" y="694.3" text-anchor="middle" font-size="14">0.4</text><text x="372.52" y="694.3" text-anchor="middle" font-size="14">0.6</text><text x="413.56" y="694.3" text-anchor="middle" font-size="14">0.8</text><text x="454.60" y="694.3" text-anchor="middle" font-size="14">1</text><text x="38.7" y="513.90" text-anchor="end" font-size="14">1</text><text x="38.7" y="597.40" text-anchor="end" font-size="14">0</text><text x="38.7" y="680.90" text-anchor="end" font-size="14">-1</text>
<text x="249.40" y="714.8" text-anchor="middle" font-size="15.3"><tspan font-style="italic">B</tspan> (T)</text>
<text transform="translate(18,593.60) rotate(-90)" text-anchor="middle" font-size="16">R<tspan font-size="9.2" font-style="italic" dy="4.2">yx</tspan><tspan dy="-4.2"> /R</tspan><tspan font-size="10" dy="4.2">K</tspan></text>
<text x="249.40" y="497.8" text-anchor="middle" font-size="14">V<tspan font-size="11" dy="5">Gate</tspan><tspan dy="-5"> = −0.3 V</tspan></text>
<text x="0.8" y="495.1" font-size="16.2">(c)</text>
<rect x="471.3" y="521.80" width="16.60" height="12.95" fill="#c8308c"/><rect x="471.3" y="534.45" width="16.60" height="12.95" fill="#ff00c8"/><rect x="471.3" y="547.11" width="16.60" height="12.95" fill="#e000f0"/><rect x="471.3" y="559.76" width="16.60" height="12.95" fill="#6010f0"/><rect x="471.3" y="572.41" width="16.60" height="12.95" fill="#0000e8"/><rect x="471.3" y="585.07" width="16.60" height="12.95" fill="#1060f0"/><rect x="471.3" y="597.72" width="16.60" height="12.95" fill="#10d0f0"/><rect x="471.3" y="610.37" width="16.60" height="12.95" fill="#10f0d0"/><rect x="471.3" y="623.03" width="16.60" height="12.95" fill="#10e070"/><rect x="471.3" y="635.68" width="16.60" height="12.95" fill="#00e020"/><rect x="471.3" y="648.33" width="16.60" height="12.95" fill="#50e020"/><rect x="471.3" y="660.99" width="16.60" height="12.95" fill="#c0f000"/><rect x="471.3" y="673.64" width="16.60" height="12.95" fill="#ffc000"/><rect x="471.3" y="686.29" width="16.60" height="12.95" fill="#ff6000"/><rect x="471.3" y="698.95" width="16.60" height="12.95" fill="#ff0000"/>
<rect x="471.3" y="521.80" width="16.60" height="189.80" fill="none" stroke="#444" stroke-width="0.8"/>
<g stroke="#333" stroke-width="0.8"><line x1="485.70" y1="534.45" x2="487.9" y2="534.45"/><line x1="485.70" y1="547.11" x2="487.9" y2="547.11"/><line x1="485.70" y1="559.76" x2="487.9" y2="559.76"/><line x1="485.70" y1="572.41" x2="487.9" y2="572.41"/><line x1="485.70" y1="585.07" x2="487.9" y2="585.07"/><line x1="485.70" y1="597.72" x2="487.9" y2="597.72"/><line x1="485.70" y1="610.37" x2="487.9" y2="610.37"/><line x1="485.70" y1="623.03" x2="487.9" y2="623.03"/><line x1="485.70" y1="635.68" x2="487.9" y2="635.68"/><line x1="485.70" y1="648.33" x2="487.9" y2="648.33"/><line x1="485.70" y1="660.99" x2="487.9" y2="660.99"/><line x1="485.70" y1="673.64" x2="487.9" y2="673.64"/><line x1="485.70" y1="686.29" x2="487.9" y2="686.29"/><line x1="485.70" y1="698.95" x2="487.9" y2="698.95"/></g>
<text x="494.7" y="525.50" font-size="12.5">30.0</text>
<text x="494.7" y="552.61" font-size="12.5">9.40</text>
<text x="494.7" y="579.73" font-size="12.5">3.00</text>
<text x="494.7" y="606.84" font-size="12.5">0.93</text>
<text x="494.7" y="633.96" font-size="12.5">0.29</text>
<text x="494.7" y="661.07" font-size="12.5">0.10</text>
<text x="494.7" y="688.19" font-size="12.5">0.03</text>
<text x="494.7" y="715.30" font-size="12.5">0.01</text>
<text x="481.20" y="507.1" text-anchor="middle" font-size="13.4">T (K)</text>
<rect x="344.7" y="636.6" width="96.3" height="26.5" fill="#fff" stroke="#222" stroke-width="1.2"/>
<line x1="347.7" y1="643.9" x2="380.7" y2="643.9" stroke="#8c8c8c" stroke-width="1.6" stroke-dasharray="7 4"/>
<line x1="347.7" y1="657.1" x2="380.7" y2="657.1" stroke="#8c8c8c" stroke-width="1.6" stroke-dasharray="2 2.5"/>
<text x="383.2" y="647.5" font-size="11">5 T to −5 T</text>
<text x="383.2" y="660.5" font-size="11">−5 T to 5 T</text>
<g clip-path="url(#clip0)" fill="none" stroke-width="1.3"><path d="M194.1,187.1 195.8,186.2 197.4,185.0 198.7,183.3 199.9,181.1 201.1,178.3 202.1,174.9 203.9,166.4 205.6,155.6 207.2,141.4 212.5,83.9" stroke="#30e070"/><path d="M194.1,181.0 196.0,180.3 197.8,179.2 199.3,177.7 200.7,175.8 201.9,173.4 203.0,170.4 205.2,162.1 206.9,152.3 208.8,138.6 214.6,83.7" stroke="#40e8c0"/></g>
<line x1="228.88" y1="29.0" x2="228.88" y2="196.0" stroke="#2a6db0" stroke-width="2"/>
<line x1="269.92" y1="29.0" x2="269.92" y2="196.0" stroke="#2a6db0" stroke-width="2"/>
<g stroke="#3a7ab5" stroke-width="1.5" fill="none"><line x1="230.88" y1="172.8" x2="267.92" y2="172.8"/><polyline points="236.88,168.8 230.88,172.8 236.88,176.8"/><polyline points="261.92,168.8 267.92,172.8 261.92,176.8"/></g>
<text x="293.5" y="173.4" font-size="15.5" style="fill:#2e6fae">Δ<tspan font-style="italic">B</tspan></text>
</svg></body></html>
